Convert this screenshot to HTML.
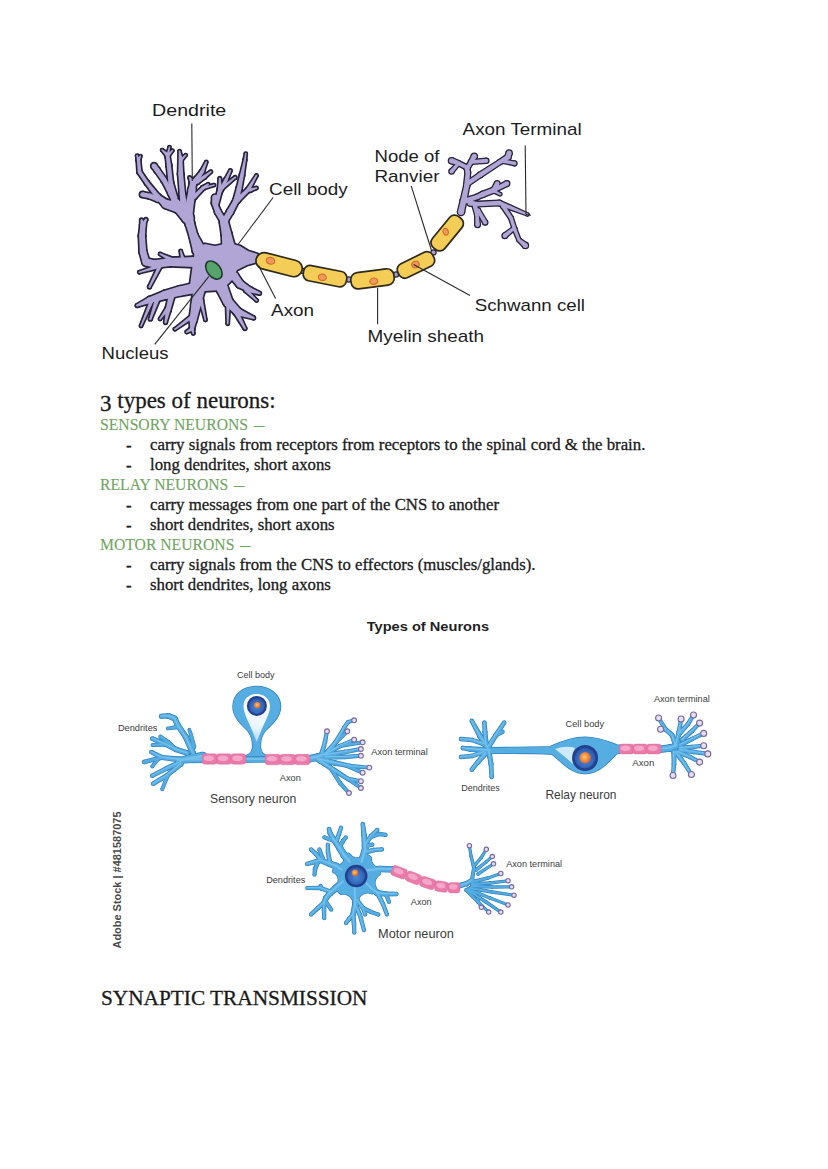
<!DOCTYPE html>
<html>
<head>
<meta charset="utf-8">
<style>
html,body{margin:0;padding:0;background:#fff;}
body{width:828px;height:1169px;position:relative;overflow:hidden;font-family:"Liberation Serif",serif;color:#1a1a1a;}
.t{position:absolute;white-space:nowrap;line-height:20px;-webkit-text-stroke:0.3px currentColor;}
.b{font-size:16.8px;left:150px;}
.d{font-size:16.8px;left:126px;margin-top:1px;}
.g{font-size:15.7px;left:100px;color:#6fa65f;-webkit-text-stroke:0.12px currentColor;}
.dash{display:inline-block;transform:scaleX(0.66);transform-origin:0 0;margin-left:2px;}
.h{font-size:23px;left:100px;}
svg{position:absolute;left:0;top:0;}
</style>
</head>
<body>
<svg width="828" height="1169" viewBox="0 0 828 1169">
<defs><g id="tn"><path d="M195 248 L205 244 L215 246 L224 244 L233 244 L240 246 L248 251 L257.6 254 L258 262 L247 265 L237 270 L232 280 L222 290 L205 291 L195 293 L190 285 L192 270 L194 258Z"/>
<circle cx="199" cy="250" r="6.2"/>
<circle cx="193.5" cy="236" r="4"/>
<circle cx="190" cy="224" r="4.1"/>
<circle cx="188" cy="215" r="4.5"/>
<path d="M204.7 247.7 L197.2 234.6 L189.8 237.4 L193.3 252.3Z"/>
<path d="M197.3 234.9 L193.9 222.8 L186.1 225.2 L189.7 237.1Z"/>
<path d="M194 223.1 L192.4 214 L183.6 216 L186 224.9Z"/>
<circle cx="188" cy="216" r="4.3"/>
<circle cx="190.5" cy="200" r="3.7"/>
<circle cx="192" cy="190" r="3.5"/>
<circle cx="193" cy="183" r="2.9"/>
<circle cx="189.5" cy="177.5" r="0.8"/>
<path d="M192.2 216.7 L194.2 200.6 L186.8 199.4 L183.8 215.3Z"/>
<path d="M194.2 200.6 L195.4 190.5 L188.6 189.5 L186.8 199.4Z"/>
<path d="M195.4 190.5 L195.9 183.4 L190.1 182.6 L188.6 189.5Z"/>
<path d="M195.5 181.4 L190.1 177.1 L188.9 177.9 L190.5 184.6Z"/>
<circle cx="193" cy="184" r="2.9"/>
<circle cx="197" cy="179" r="2.4"/>
<circle cx="202" cy="172" r="1.8"/>
<circle cx="206.3" cy="162" r="0.8"/>
<path d="M195.3 185.8 L198.9 180.5 L195.1 177.5 L190.7 182.2Z"/>
<path d="M198.9 180.4 L203.5 173.1 L200.5 170.9 L195.1 177.6Z"/>
<path d="M203.7 172.7 L207 162.3 L205.6 161.7 L200.3 171.3Z"/>
<circle cx="197" cy="182" r="1.8"/>
<circle cx="204" cy="177" r="1.6"/>
<circle cx="211" cy="171.6" r="0.8"/>
<path d="M198.1 183.5 L204.9 178.3 L203.1 175.7 L195.9 180.5Z"/>
<path d="M205 178.2 L211.5 172.2 L210.5 171 L203 175.8Z"/>
<circle cx="194" cy="197" r="2.1"/>
<circle cx="203" cy="188" r="1.6"/>
<circle cx="208.2" cy="184.2" r="0.8"/>
<path d="M195.5 198.5 L204.1 189.1 L201.9 186.9 L192.5 195.5Z"/>
<path d="M203.9 189.3 L208.7 184.8 L207.7 183.6 L202.1 186.7Z"/>
<circle cx="203" cy="188" r="1.3"/>
<circle cx="214" cy="185.1" r="0.8"/>
<path d="M203.3 189.3 L214.2 185.8 L213.8 184.4 L202.7 186.7Z"/>
<circle cx="188" cy="218" r="5.6"/>
<circle cx="180" cy="208" r="5.6"/>
<circle cx="175" cy="203" r="4.5"/>
<path d="M192.4 214.5 L184.4 204.5 L175.6 211.5 L183.6 221.5Z"/>
<path d="M184 204 L178.2 199.8 L171.8 206.2 L176 212Z"/>
<circle cx="184" cy="207" r="3.5"/>
<circle cx="182.4" cy="194" r="2.7"/>
<circle cx="180.7" cy="174" r="2.4"/>
<circle cx="180.5" cy="158" r="1.8"/>
<circle cx="179.5" cy="151" r="0.7"/>
<path d="M187.4 206.6 L185 193.7 L179.8 194.3 L180.6 207.4Z"/>
<path d="M185 193.8 L183.1 173.8 L178.3 174.2 L179.8 194.2Z"/>
<path d="M183.1 174 L182.3 158 L178.7 158 L178.3 174Z"/>
<path d="M182.3 157.7 L180.2 150.9 L178.8 151.1 L178.7 158.3Z"/>
<circle cx="181" cy="160" r="1.4"/>
<circle cx="185.8" cy="155" r="0.7"/>
<path d="M182 161 L186.3 155.5 L185.3 154.5 L180 159Z"/>
<circle cx="177" cy="205" r="3.2"/>
<circle cx="171" cy="193" r="2.7"/>
<circle cx="164" cy="180" r="2.4"/>
<circle cx="157" cy="170" r="2.4"/>
<circle cx="154" cy="166" r="2.5"/>
<path d="M179.9 203.6 L173.4 191.8 L168.6 194.2 L174.1 206.4Z"/>
<path d="M173.3 191.7 L166.1 178.9 L161.9 181.1 L168.7 194.3Z"/>
<path d="M166 178.6 L159 168.6 L155 171.4 L162 181.4Z"/>
<path d="M158.9 168.6 L156 164.5 L152 167.5 L155.1 171.4Z"/>
<circle cx="175" cy="198" r="2.4"/>
<circle cx="170.6" cy="182.3" r="2.2"/>
<circle cx="168.9" cy="165.4" r="2.1"/>
<circle cx="167.5" cy="155" r="1.8"/>
<circle cx="162" cy="150" r="0.7"/>
<path d="M177.3 197.4 L172.7 181.7 L168.5 182.9 L172.7 198.6Z"/>
<path d="M172.8 182.1 L171 165.2 L166.8 165.6 L168.4 182.5Z"/>
<path d="M170.9 165.1 L169.3 154.8 L165.7 155.2 L166.9 165.7Z"/>
<path d="M168.7 153.6 L162.4 149.5 L161.6 150.5 L166.3 156.4Z"/>
<circle cx="167.5" cy="156" r="1.6"/>
<circle cx="169.5" cy="147" r="0.7"/>
<path d="M169 156.3 L170.1 147.1 L168.9 146.9 L166 155.7Z"/>
<circle cx="167.5" cy="156" r="1.6"/>
<circle cx="172.5" cy="150.5" r="0.7"/>
<path d="M168.7 157.1 L173 150.9 L172 150.1 L166.3 154.9Z"/>
<circle cx="180" cy="208" r="5.1"/>
<circle cx="166" cy="204" r="4"/>
<circle cx="158" cy="197" r="2.4"/>
<circle cx="147" cy="183" r="1.8"/>
<circle cx="139.5" cy="172" r="1.8"/>
<circle cx="138.5" cy="160" r="1.6"/>
<circle cx="137" cy="155.5" r="0.7"/>
<path d="M181.4 203.1 L167.1 200.1 L164.9 207.9 L178.6 212.9Z"/>
<path d="M168.6 201 L159.6 195.2 L156.4 198.8 L163.4 207Z"/>
<path d="M159.9 195.5 L148.5 181.9 L145.5 184.1 L156.1 198.5Z"/>
<path d="M148.5 182 L141 171 L138 173 L145.5 184Z"/>
<path d="M141.3 171.8 L140.1 159.9 L136.9 160.1 L137.7 172.2Z"/>
<path d="M140 159.5 L137.6 155.3 L136.4 155.7 L137 160.5Z"/>
<circle cx="138.5" cy="160" r="1.4"/>
<circle cx="140.5" cy="156" r="0.7"/>
<path d="M139.8 160.6 L141.1 156.3 L139.9 155.7 L137.2 159.4Z"/>
<circle cx="158" cy="199" r="2.7"/>
<circle cx="150" cy="196" r="2.4"/>
<circle cx="142.5" cy="194.5" r="2.3"/>
<path d="M158.9 196.5 L150.8 193.8 L149.2 198.2 L157.1 201.5Z"/>
<path d="M150.5 193.7 L142.9 192.3 L142.1 196.7 L149.5 198.3Z"/>
<circle cx="229" cy="250" r="6.7"/>
<circle cx="226.5" cy="234" r="4.7"/>
<circle cx="224" cy="222" r="4"/>
<path d="M235.6 249 L231.1 233.3 L221.9 234.7 L222.4 251Z"/>
<path d="M231.1 233.1 L227.9 221.2 L220.1 222.8 L221.9 234.9Z"/>
<circle cx="224" cy="222" r="2.9"/>
<circle cx="218" cy="212" r="2.7"/>
<circle cx="214.5" cy="203" r="2.4"/>
<circle cx="215" cy="197.5" r="2.7"/>
<path d="M226.5 220.5 L220.3 210.6 L215.7 213.4 L221.5 223.5Z"/>
<path d="M220.5 211 L216.7 202.1 L212.3 203.9 L215.5 213Z"/>
<path d="M216.9 203.2 L217.6 197.7 L212.4 197.3 L212.1 202.8Z"/>
<circle cx="216" cy="205" r="2.1"/>
<circle cx="220" cy="190" r="2.1"/>
<circle cx="219.8" cy="178.4" r="0.9"/>
<path d="M218 205.5 L222 190.5 L218 189.5 L214 204.5Z"/>
<path d="M222.1 190 L220.7 178.4 L218.9 178.4 L217.9 190Z"/>
<circle cx="220" cy="191" r="1.8"/>
<circle cx="226" cy="180" r="1.6"/>
<circle cx="230.4" cy="170.6" r="0.9"/>
<path d="M221.6 191.9 L227.4 180.8 L224.6 179.2 L218.4 190.1Z"/>
<path d="M227.4 180.7 L231.2 171 L229.6 170.2 L224.6 179.3Z"/>
<circle cx="222" cy="188" r="1.6"/>
<circle cx="235.2" cy="177.4" r="0.9"/>
<path d="M223 189.2 L235.7 178.1 L234.7 176.7 L221 186.8Z"/>
<circle cx="224" cy="222" r="2.9"/>
<circle cx="230" cy="212" r="2.9"/>
<circle cx="236" cy="201" r="2.7"/>
<circle cx="239" cy="189" r="2.4"/>
<circle cx="242" cy="175" r="1.8"/>
<circle cx="244.9" cy="160" r="1"/>
<circle cx="245.8" cy="153.5" r="0.7"/>
<path d="M226.5 223.5 L232.5 213.5 L227.5 210.5 L221.5 220.5Z"/>
<path d="M232.6 213.4 L238.3 202.3 L233.7 199.7 L227.4 210.6Z"/>
<path d="M238.6 201.6 L241.3 189.6 L236.7 188.4 L233.4 200.4Z"/>
<path d="M241.3 189.5 L243.8 175.4 L240.2 174.6 L236.7 188.5Z"/>
<path d="M243.8 175.4 L245.9 160.2 L243.9 159.8 L240.2 174.6Z"/>
<path d="M245.9 160.1 L246.5 153.6 L245.1 153.4 L243.9 159.9Z"/>
<circle cx="237.5" cy="200" r="2.4"/>
<circle cx="248" cy="190" r="1.8"/>
<circle cx="256.5" cy="175.5" r="0.8"/>
<path d="M239.1 201.7 L249.3 191.3 L246.7 188.7 L235.9 198.3Z"/>
<path d="M249.6 190.9 L257.2 175.9 L255.8 175.1 L246.4 189.1Z"/>
<circle cx="250" cy="190" r="1.6"/>
<circle cx="256.5" cy="188" r="0.8"/>
<path d="M250.5 191.5 L256.7 188.7 L256.3 187.3 L249.5 188.5Z"/>
<circle cx="194" cy="262" r="5.1"/>
<circle cx="170" cy="262" r="4"/>
<circle cx="155" cy="264" r="3.7"/>
<circle cx="146" cy="262" r="3.5"/>
<circle cx="143" cy="252" r="3.2"/>
<circle cx="142" cy="236" r="2.9"/>
<circle cx="143" cy="225" r="2.7"/>
<circle cx="141.5" cy="220" r="1"/>
<path d="M194 256.9 L170 258 L170 266 L194 267.1Z"/>
<path d="M169.5 258 L154.5 260.3 L155.5 267.7 L170.5 266Z"/>
<path d="M155.8 260.4 L146.8 258.6 L145.2 265.4 L154.2 267.6Z"/>
<path d="M149.3 261 L146.1 251.1 L139.9 252.9 L142.7 263Z"/>
<path d="M146.2 251.8 L144.9 235.8 L139.1 236.2 L139.8 252.2Z"/>
<path d="M144.9 236.3 L145.6 225.2 L140.4 224.8 L139.1 235.7Z"/>
<path d="M145.5 224.2 L142.5 219.7 L140.5 220.3 L140.5 225.8Z"/>
<circle cx="143" cy="225" r="2.1"/>
<circle cx="146" cy="219.5" r="1"/>
<path d="M144.9 226 L146.9 220 L145.1 219 L141.1 224Z"/>
<circle cx="174" cy="261" r="2.4"/>
<circle cx="160" cy="254" r="0.8"/>
<path d="M175.1 258.9 L160.3 253.3 L159.7 254.7 L172.9 263.1Z"/>
<circle cx="183" cy="260" r="1.8"/>
<circle cx="180.7" cy="251" r="0.8"/>
<path d="M184.8 259.5 L181.4 250.8 L180 251.2 L181.2 260.5Z"/>
<circle cx="160" cy="266" r="1.8"/>
<circle cx="139.3" cy="272.3" r="0.8"/>
<path d="M159.5 264.2 L139.1 271.6 L139.5 273 L160.5 267.8Z"/>
<circle cx="160" cy="266" r="1.8"/>
<circle cx="149.4" cy="287" r="1"/>
<path d="M158.4 265.2 L148.5 286.5 L150.3 287.5 L161.6 266.8Z"/>
<circle cx="195" cy="288" r="5.1"/>
<circle cx="180" cy="291" r="4.5"/>
<circle cx="165" cy="295" r="4"/>
<circle cx="150" cy="300" r="2.9"/>
<circle cx="137" cy="305.6" r="1"/>
<path d="M194 283 L179.1 286.5 L180.9 295.5 L196 293Z"/>
<path d="M178.8 286.6 L164 291.1 L166 298.9 L181.2 295.4Z"/>
<path d="M163.7 291.2 L149.1 297.2 L150.9 302.8 L166.3 298.8Z"/>
<path d="M148.8 297.3 L136.6 304.6 L137.4 306.6 L151.2 302.7Z"/>
<circle cx="158" cy="297" r="2.4"/>
<circle cx="150.3" cy="319.2" r="1"/>
<path d="M155.7 296.2 L149.3 318.9 L151.3 319.5 L160.3 297.8Z"/>
<circle cx="152" cy="300" r="1.8"/>
<circle cx="141" cy="326" r="0.8"/>
<path d="M150.3 299.3 L140.3 325.7 L141.7 326.3 L153.7 300.7Z"/>
<circle cx="172" cy="294" r="2.9"/>
<circle cx="168" cy="310" r="2.4"/>
<circle cx="165.5" cy="322.6" r="1"/>
<path d="M169.2 293.3 L165.7 309.4 L170.3 310.6 L174.8 294.7Z"/>
<path d="M165.7 309.5 L164.5 322.4 L166.5 322.8 L170.3 310.5Z"/>
<circle cx="168" cy="308" r="1.8"/>
<circle cx="160" cy="319" r="0.8"/>
<path d="M166.5 306.9 L159.4 318.6 L160.6 319.4 L169.5 309.1Z"/>
<circle cx="199" cy="290" r="5.6"/>
<circle cx="196" cy="305" r="4.5"/>
<circle cx="193" cy="320" r="3.5"/>
<circle cx="192" cy="329" r="1.8"/>
<circle cx="186.6" cy="332" r="0.8"/>
<path d="M193.5 288.9 L191.5 304.1 L200.5 305.9 L204.5 291.1Z"/>
<path d="M191.5 304.1 L189.6 319.3 L196.4 320.7 L200.5 305.9Z"/>
<path d="M189.6 319.6 L190.2 328.8 L193.8 329.2 L196.4 320.4Z"/>
<path d="M191.1 327.4 L186.2 331.3 L187 332.7 L192.9 330.6Z"/>
<circle cx="192" cy="328" r="1.8"/>
<circle cx="193.4" cy="333.5" r="0.8"/>
<path d="M190.2 328.5 L192.7 333.7 L194.1 333.3 L193.8 327.5Z"/>
<circle cx="193" cy="316" r="1.8"/>
<circle cx="174.8" cy="329.3" r="0.8"/>
<path d="M191.9 314.5 L174.3 328.7 L175.3 329.9 L194.1 317.5Z"/>
<circle cx="201" cy="300" r="1.8"/>
<circle cx="205.5" cy="320" r="0.8"/>
<path d="M199.2 300.4 L204.8 320.2 L206.2 319.8 L202.8 299.6Z"/>
<circle cx="222" cy="288" r="5.6"/>
<circle cx="228" cy="302" r="4.5"/>
<circle cx="238" cy="312" r="3.5"/>
<circle cx="253.8" cy="318" r="1"/>
<path d="M216.8 290.2 L223.8 303.8 L232.2 300.2 L227.2 285.8Z"/>
<path d="M224.8 305.2 L235.5 314.5 L240.5 309.5 L231.2 298.8Z"/>
<path d="M236.8 315.2 L253.4 319 L254.2 317 L239.2 308.8Z"/>
<circle cx="236" cy="312" r="2.4"/>
<circle cx="245" cy="328.6" r="1"/>
<path d="M233.9 313.1 L244.1 329.1 L245.9 328.1 L238.1 310.9Z"/>
<circle cx="228" cy="304" r="1.8"/>
<circle cx="227.7" cy="323.8" r="0.8"/>
<path d="M226.2 304 L226.9 323.8 L228.5 323.8 L229.8 304Z"/>
<circle cx="234" cy="276" r="4"/>
<circle cx="240" cy="284" r="3.5"/>
<circle cx="250" cy="290" r="2.4"/>
<circle cx="259.6" cy="293.3" r="1"/>
<path d="M230.8 278.4 L237.2 286.1 L242.8 281.9 L237.2 273.6Z"/>
<path d="M238.2 287 L248.8 292 L251.2 288 L241.8 281Z"/>
<path d="M249.2 292.3 L259.3 294.3 L259.9 292.3 L250.8 287.7Z"/>
<circle cx="246" cy="290" r="1.8"/>
<circle cx="256.7" cy="300.6" r="0.8"/>
<path d="M244.7 291.3 L256.2 301.1 L257.2 300.1 L247.3 288.7Z"/></g></defs><use href="#tn" fill="#26233a" stroke="#26233a" stroke-width="3.3" stroke-linejoin="round"/><use href="#tn" fill="#b0a5d4"/>
<defs><g id="tt"><circle cx="461" cy="212" r="3"/>
<circle cx="463.5" cy="200.9" r="2.8"/>
<circle cx="466.7" cy="185.7" r="2.5"/>
<circle cx="467.8" cy="172.6" r="2.2"/>
<circle cx="466.7" cy="167.2" r="2.2"/>
<path d="M463.9 212.7 L466.2 201.5 L460.8 200.3 L458.1 211.3Z"/>
<path d="M466.2 201.5 L469.1 186.2 L464.3 185.2 L460.8 200.3Z"/>
<path d="M469.2 185.9 L470 172.8 L465.6 172.4 L464.2 185.5Z"/>
<path d="M470 172.2 L468.9 166.8 L464.5 167.6 L465.6 173Z"/>
<circle cx="466.7" cy="167.2" r="2"/>
<circle cx="458" cy="163" r="2"/>
<circle cx="451.5" cy="160.7" r="2.5"/>
<path d="M467.6 165.4 L458.9 161.2 L457.1 164.8 L465.8 169Z"/>
<path d="M458.7 161.1 L452.3 158.3 L450.7 163.1 L457.3 164.9Z"/>
<circle cx="458" cy="164" r="1.5"/>
<circle cx="451.5" cy="171.5" r="2"/>
<path d="M456.9 163 L450 170.2 L453 172.8 L459.1 165Z"/>
<circle cx="467.5" cy="168" r="2"/>
<circle cx="471" cy="162" r="2"/>
<circle cx="474.3" cy="156.3" r="2.5"/>
<path d="M469.2 169 L472.7 163 L469.3 161 L465.8 167Z"/>
<path d="M472.7 163 L476.5 157.6 L472.1 155 L469.3 161Z"/>
<circle cx="471" cy="162" r="1.8"/>
<circle cx="486.3" cy="160.7" r="2"/>
<path d="M471.1 163.7 L486.5 162.7 L486.1 158.7 L470.9 160.3Z"/>
<circle cx="467" cy="184" r="2.2"/>
<circle cx="480" cy="175" r="2.2"/>
<circle cx="500" cy="162" r="2"/>
<circle cx="508" cy="157" r="2.5"/>
<circle cx="509.1" cy="153" r="2.5"/>
<path d="M468.3 185.8 L481.3 176.8 L478.7 173.2 L465.7 182.2Z"/>
<path d="M481.2 176.9 L501.1 163.7 L498.9 160.3 L478.8 173.1Z"/>
<path d="M501.1 163.7 L509.3 159.1 L506.7 154.9 L498.9 160.3Z"/>
<path d="M510.4 157.7 L511.5 153.7 L506.7 152.3 L505.6 156.3Z"/>
<circle cx="503" cy="161" r="1.8"/>
<circle cx="514.6" cy="163.4" r="1.8"/>
<path d="M502.6 162.7 L514.2 165.1 L515 161.7 L503.4 159.3Z"/>
<circle cx="465" cy="201" r="2.5"/>
<circle cx="477" cy="197" r="2.2"/>
<circle cx="483" cy="194.3" r="2.5"/>
<circle cx="494" cy="190" r="2.5"/>
<circle cx="497.2" cy="183.5" r="2.2"/>
<path d="M465.8 203.4 L477.7 199.1 L476.3 194.9 L464.2 198.6Z"/>
<path d="M477.9 199.1 L484 196.6 L482 192 L476.1 194.9Z"/>
<path d="M483.9 196.6 L494.9 192.3 L493.1 187.7 L482.1 192Z"/>
<path d="M496.2 191.1 L499.2 184.5 L495.2 182.5 L491.8 188.9Z"/>
<circle cx="494" cy="190" r="2"/>
<circle cx="507" cy="183.5" r="2.2"/>
<path d="M494.9 191.8 L508 185.5 L506 181.5 L493.1 188.2Z"/>
<circle cx="494" cy="191" r="1.5"/>
<circle cx="500.4" cy="194.3" r="1"/>
<path d="M493.3 192.3 L499.9 195.2 L500.9 193.4 L494.7 189.7Z"/>
<circle cx="470" cy="203" r="2.5"/>
<circle cx="477.6" cy="204.1" r="2.2"/>
<circle cx="499.3" cy="203" r="2.2"/>
<circle cx="527.6" cy="214.5" r="1"/>
<path d="M469.6 205.5 L477.3 206.3 L477.9 201.9 L470.4 200.5Z"/>
<path d="M477.7 206.3 L499.4 205.2 L499.2 200.8 L477.5 201.9Z"/>
<path d="M498.5 205.1 L527.2 215.4 L528 213.6 L500.1 200.9Z"/>
<circle cx="475" cy="206" r="2.2"/>
<circle cx="477" cy="215" r="1.8"/>
<circle cx="477.6" cy="224.8" r="2.2"/>
<path d="M472.8 206.5 L475.3 215.4 L478.7 214.6 L477.2 205.5Z"/>
<path d="M475.3 215.1 L475.4 224.9 L479.8 224.7 L478.7 214.9Z"/>
<circle cx="478" cy="210" r="1.8"/>
<circle cx="485.2" cy="222.6" r="2"/>
<path d="M476.5 210.9 L483.5 223.6 L486.9 221.6 L479.5 209.1Z"/>
<circle cx="503" cy="206" r="2"/>
<circle cx="511" cy="218" r="1.8"/>
<circle cx="514.6" cy="229.1" r="1.8"/>
<circle cx="519" cy="240" r="1.5"/>
<circle cx="525.4" cy="245.4" r="2.5"/>
<path d="M501.3 207.1 L509.5 219 L512.5 217 L504.7 204.9Z"/>
<path d="M509.3 218.5 L512.9 229.6 L516.3 228.6 L512.7 217.5Z"/>
<path d="M513 229.8 L517.6 240.6 L520.4 239.4 L516.2 228.4Z"/>
<path d="M518 241.1 L523.8 247.3 L527 243.5 L520 238.9Z"/>
<circle cx="513" cy="229" r="1.5"/>
<circle cx="504.8" cy="235.7" r="2.2"/>
<path d="M512.1 227.8 L503.4 234 L506.2 237.4 L513.9 230.2Z"/></g></defs><use href="#tt" fill="#26233a" stroke="#26233a" stroke-width="2.6" stroke-linejoin="round"/><use href="#tt" fill="#b0a5d4"/>
<g fill="#a89fd0" stroke="#2b2a33" stroke-width="1.2">
<circle cx="302.2" cy="270.8" r="2.6"/>
<circle cx="348.8" cy="279.5" r="2.6"/>
<circle cx="396" cy="274.5" r="2.6"/>
<circle cx="433.5" cy="252.5" r="2.6"/>
</g>
<g fill="#f4cd57" stroke="#2e2a1a" stroke-width="1.7">
<rect x="-23.6" y="-8.2" width="47.2" height="16.5" rx="8.2" transform="translate(279.1 264.6) rotate(14.4)"/>
<rect x="-21.9" y="-7.8" width="43.8" height="15.5" rx="6.5" transform="translate(325 276.2) rotate(11.2)"/>
<rect x="-21.7" y="-8.2" width="43.4" height="16.5" rx="7" transform="translate(372.5 278.8) rotate(-7.3)"/>
<rect x="-19.5" y="-7.8" width="38.9" height="15.5" rx="6.5" transform="translate(416 265) rotate(-25.9)"/>
<rect x="-20.1" y="-8" width="40.1" height="16" rx="6.5" transform="translate(447.2 233) rotate(-50.6)"/>
</g>
<g fill="#ec9a5a" stroke="#d4692e" stroke-width="1.1">
<ellipse cx="0" cy="0" rx="4.3" ry="3.3" transform="translate(270.5 260.8) rotate(14)"/>
<ellipse cx="0" cy="0" rx="4" ry="3.2" transform="translate(322.3 277.3) rotate(10)"/>
<ellipse cx="0" cy="0" rx="4" ry="3.2" transform="translate(373.8 281.2) rotate(-7)"/>
<ellipse cx="0" cy="0" rx="3.8" ry="3.2" transform="translate(415.5 264.5) rotate(-25)"/>
<ellipse cx="0" cy="0" rx="2.6" ry="3.4" transform="translate(445.7 231.7) rotate(-20)"/>
</g>
<ellipse cx="0" cy="0" rx="10.3" ry="6.6" transform="translate(213.9 270.1) rotate(52)" fill="#56a46b" stroke="#1d3b2b" stroke-width="1.6"/>
<g stroke="#2a2a2a" stroke-width="1.1" fill="none"><line x1="191.8" y1="123.5" x2="192.3" y2="181"/><line x1="238.4" y1="244" x2="273.1" y2="197.5"/><line x1="411.2" y1="185.8" x2="431.5" y2="250.5"/><line x1="525.2" y1="145.5" x2="526" y2="214.5"/><line x1="526" y1="214.5" x2="531" y2="215.2"/><line x1="413.6" y1="264.5" x2="470" y2="295.4"/><line x1="377.6" y1="288" x2="377.6" y2="324.3"/><line x1="258.5" y1="265.5" x2="275.6" y2="298.6"/><line x1="208.9" y1="276.4" x2="154.7" y2="344.4"/></g>
<g font-family="Liberation Sans, sans-serif" font-size="16.6" fill="#1c1c1c"><text x="152.1" y="116.3" textLength="74.2" lengthAdjust="spacingAndGlyphs">Dendrite</text><text x="269.0" y="195.4" textLength="78.7" lengthAdjust="spacingAndGlyphs">Cell body</text><text x="374.5" y="161.7" textLength="65.0" lengthAdjust="spacingAndGlyphs">Node of</text><text x="374.5" y="182.2" textLength="65.0" lengthAdjust="spacingAndGlyphs">Ranvier</text><text x="462.6" y="134.7" textLength="119.0" lengthAdjust="spacingAndGlyphs">Axon Terminal</text><text x="474.8" y="310.7" textLength="110.2" lengthAdjust="spacingAndGlyphs">Schwann cell</text><text x="367.5" y="342" textLength="116.6" lengthAdjust="spacingAndGlyphs">Myelin sheath</text><text x="271.1" y="315.7" textLength="43.0" lengthAdjust="spacingAndGlyphs">Axon</text><text x="101.6" y="358.9" textLength="66.9" lengthAdjust="spacingAndGlyphs">Nucleus</text></g>
<defs>
<radialGradient id="nucg" cx="0.5" cy="0.55" r="0.55"><stop offset="0" stop-color="#4a8ad4"/><stop offset="0.7" stop-color="#3468bb"/><stop offset="1" stop-color="#2a4fa2"/></radialGradient>
<radialGradient id="orag" cx="0.45" cy="0.45" r="0.55"><stop offset="0" stop-color="#fcc873"/><stop offset="0.55" stop-color="#f2913e"/><stop offset="1" stop-color="#d8673a"/></radialGradient>
<linearGradient id="hole" x1="0" y1="0" x2="0" y2="1"><stop offset="0" stop-color="#ffffff"/><stop offset="0.7" stop-color="#e9f5fc"/><stop offset="1" stop-color="#a9d8f2"/></linearGradient>
</defs>
<defs><g id="sd"><circle cx="310" cy="759" r="2.5"/>
<circle cx="178" cy="760" r="2.5"/>
<path d="M310 756.5 L178 757.5 L178 762.5 L310 761.5Z"/>
<circle cx="203" cy="756.5" r="4"/>
<circle cx="190" cy="758.5" r="3.5"/>
<circle cx="180" cy="760.5" r="2.8"/>
<path d="M202.4 752.5 L189.5 755 L190.5 762 L203.6 760.5Z"/>
<path d="M189.3 755.1 L179.5 757.8 L180.5 763.2 L190.7 761.9Z"/>
<circle cx="193" cy="753" r="2.2"/>
<circle cx="185.7" cy="736.7" r="2.2"/>
<circle cx="177.6" cy="724.9" r="2.2"/>
<circle cx="174.9" cy="718.6" r="2.2"/>
<circle cx="168.5" cy="715.9" r="2.1"/>
<circle cx="161.3" cy="716.3" r="1.8"/>
<path d="M195.1 752.1 L187.8 735.8 L183.6 737.6 L190.9 753.9Z"/>
<path d="M187.6 735.4 L179.5 723.6 L175.7 726.2 L183.8 738Z"/>
<path d="M179.7 724 L177 717.7 L172.8 719.5 L175.5 725.8Z"/>
<path d="M175.8 716.5 L169.3 714 L167.7 717.8 L174 720.7Z"/>
<path d="M168.4 713.8 L161.2 714.6 L161.4 718 L168.6 718Z"/>
<circle cx="178" cy="727" r="1.5"/>
<circle cx="167.6" cy="728.6" r="1"/>
<path d="M177.8 725.5 L167.4 727.6 L167.8 729.6 L178.2 728.5Z"/>
<circle cx="194" cy="747" r="1.5"/>
<circle cx="191" cy="735" r="1.3"/>
<circle cx="189.3" cy="729.5" r="1"/>
<path d="M195.5 746.6 L192.3 734.7 L189.7 735.3 L192.5 747.4Z"/>
<path d="M192.2 734.6 L190.3 729.2 L188.3 729.8 L189.8 735.4Z"/>
<circle cx="187" cy="753" r="2.2"/>
<circle cx="175.8" cy="749.4" r="2"/>
<circle cx="164.9" cy="744" r="1.8"/>
<circle cx="152.2" cy="738.5" r="1.6"/>
<path d="M187.7 750.9 L176.4 747.5 L175.2 751.3 L186.3 755.1Z"/>
<path d="M176.7 747.6 L165.7 742.4 L164.1 745.6 L174.9 751.2Z"/>
<path d="M165.6 742.3 L152.8 737 L151.6 740 L164.2 745.7Z"/>
<circle cx="175.8" cy="749.4" r="1.6"/>
<circle cx="168" cy="742" r="1.5"/>
<circle cx="160.4" cy="736.7" r="1.4"/>
<path d="M176.9 748.2 L169 740.9 L167 743.1 L174.7 750.6Z"/>
<path d="M168.9 740.8 L161.2 735.6 L159.6 737.8 L167.1 743.2Z"/>
<circle cx="165" cy="744.5" r="1.4"/>
<circle cx="152.5" cy="745" r="1.2"/>
<path d="M164.9 743.1 L152.5 743.8 L152.5 746.2 L165.1 745.9Z"/>
<circle cx="180" cy="759.5" r="2.2"/>
<circle cx="162.2" cy="757.5" r="1.8"/>
<circle cx="151.3" cy="752.1" r="1.5"/>
<path d="M180.3 757.3 L162.4 755.7 L162 759.3 L179.7 761.7Z"/>
<path d="M163 755.9 L152 750.8 L150.6 753.4 L161.4 759.1Z"/>
<circle cx="162.2" cy="757.5" r="1.6"/>
<circle cx="144" cy="762" r="1.5"/>
<path d="M161.8 755.9 L143.6 760.5 L144.4 763.5 L162.6 759.1Z"/>
<circle cx="158" cy="759" r="1.3"/>
<circle cx="152.2" cy="766.6" r="1.2"/>
<path d="M157 758.2 L151.2 765.9 L153.2 767.3 L159 759.8Z"/>
<circle cx="181" cy="762" r="2"/>
<circle cx="166.7" cy="768.4" r="1.7"/>
<circle cx="152.2" cy="775.7" r="1.5"/>
<path d="M180.2 760.2 L166 766.8 L167.4 770 L181.8 763.8Z"/>
<path d="M165.9 766.9 L151.5 774.4 L152.9 777 L167.5 769.9Z"/>
<circle cx="181" cy="764" r="2"/>
<circle cx="166.7" cy="775.7" r="1.7"/>
<circle cx="153.1" cy="783.8" r="1.5"/>
<path d="M179.7 762.5 L165.6 774.4 L167.8 777 L182.3 765.5Z"/>
<path d="M165.8 774.2 L152.3 782.5 L153.9 785.1 L167.6 777.2Z"/>
<circle cx="168" cy="775" r="1.3"/>
<circle cx="162.2" cy="789.2" r="1.2"/>
<path d="M166.8 774.5 L161.1 788.7 L163.3 789.7 L169.2 775.5Z"/><path d="M256.5 686.5 C243 686.5 233 695 233 706.5 C233 717 241 724 248 731 C252 736 253 742 252.5 748 C252 752 249 755 245 756 L268 756 C264 755 261 752 260.5 748 C260 742 261 736 265 731 C272 724 280.5 717 280.5 706.5 C280.5 695 270 686.5 256.5 686.5 Z"/></g></defs><use href="#sd" fill="#3283be" stroke="#3283be" stroke-width="1.5" stroke-linejoin="round"/><use href="#sd" fill="#55ade2"/><g fill="#8fd2f4" opacity="0.55"><circle cx="309.7" cy="758.6" r="0.9"/>
<circle cx="177.7" cy="759.6" r="0.9"/>
<path d="M309.7 757.7 L177.7 758.7 L177.7 760.5 L309.7 759.5Z"/>
<circle cx="202.7" cy="756.1" r="1.4"/>
<circle cx="189.7" cy="758.1" r="1.2"/>
<circle cx="179.7" cy="760.1" r="1"/>
<path d="M202.5 754.7 L189.5 756.9 L189.9 759.3 L202.9 757.5Z"/>
<path d="M189.5 756.9 L179.5 759.2 L179.9 761 L189.9 759.3Z"/>
<circle cx="192.7" cy="752.6" r="0.8"/>
<circle cx="185.4" cy="736.3" r="0.8"/>
<circle cx="177.3" cy="724.5" r="0.8"/>
<circle cx="174.6" cy="718.2" r="0.8"/>
<circle cx="168.2" cy="715.5" r="0.7"/>
<circle cx="161" cy="715.9" r="0.6"/>
<path d="M193.4 752.3 L186.1 736 L184.7 736.6 L192 752.9Z"/>
<path d="M186 735.9 L177.9 724.1 L176.7 724.9 L184.8 736.7Z"/>
<path d="M178 724.2 L175.3 717.9 L173.9 718.5 L176.6 724.8Z"/>
<path d="M174.9 717.5 L168.5 714.8 L167.9 716.2 L174.3 718.9Z"/>
<path d="M168.2 714.8 L161 715.3 L161 716.5 L168.2 716.2Z"/>
<circle cx="186.7" cy="752.6" r="0.8"/>
<circle cx="175.5" cy="749" r="0.7"/>
<circle cx="164.6" cy="743.6" r="0.6"/>
<circle cx="151.9" cy="738.1" r="0.6"/>
<path d="M186.9 751.9 L175.7 748.3 L175.3 749.7 L186.5 753.3Z"/>
<path d="M175.8 748.4 L164.9 743 L164.3 744.2 L175.2 749.6Z"/>
<path d="M164.9 743 L152.1 737.6 L151.7 738.6 L164.3 744.2Z"/>
<circle cx="179.7" cy="759.1" r="0.8"/>
<circle cx="161.9" cy="757.1" r="0.6"/>
<circle cx="151" cy="751.7" r="0.5"/>
<path d="M179.8 758.3 L162 756.5 L161.8 757.7 L179.6 759.9Z"/>
<path d="M162.2 756.5 L151.2 751.2 L150.8 752.2 L161.6 757.7Z"/>
<circle cx="180.7" cy="761.6" r="0.7"/>
<circle cx="166.4" cy="768" r="0.6"/>
<circle cx="151.9" cy="775.3" r="0.5"/>
<path d="M180.4 761 L166.2 767.5 L166.6 768.5 L181 762.2Z"/>
<path d="M166.1 767.5 L151.7 774.8 L152.1 775.8 L166.7 768.5Z"/>
<circle cx="180.7" cy="763.6" r="0.7"/>
<circle cx="166.4" cy="775.3" r="0.6"/>
<circle cx="152.8" cy="783.4" r="0.5"/>
<path d="M180.3 763.1 L166 774.8 L166.8 775.8 L181.1 764.1Z"/>
<path d="M166.1 774.8 L152.5 782.9 L153.1 783.9 L166.7 775.8Z"/></g>
<defs><g id="st"><circle cx="308" cy="759" r="3"/>
<circle cx="318" cy="757" r="3"/>
<circle cx="326" cy="754" r="2.5"/>
<path d="M308.6 761.9 L318.6 759.9 L317.4 754.1 L307.4 756.1Z"/>
<path d="M319.1 759.8 L326.9 756.3 L325.1 751.7 L316.9 754.2Z"/>
<circle cx="326" cy="754" r="2.2"/>
<circle cx="336" cy="742" r="1.8"/>
<circle cx="344" cy="728" r="1.5"/>
<circle cx="348" cy="722" r="1.3"/>
<circle cx="354.1" cy="720.3" r="1.1"/>
<path d="M327.7 755.4 L337.3 743.1 L334.7 740.9 L324.3 752.6Z"/>
<path d="M337.5 742.9 L345.3 728.7 L342.7 727.3 L334.5 741.1Z"/>
<path d="M345.2 728.8 L349.1 722.7 L346.9 721.3 L342.8 727.2Z"/>
<path d="M348.3 723.3 L354.4 721.4 L353.8 719.2 L347.7 720.7Z"/>
<circle cx="322" cy="753" r="1.8"/>
<circle cx="325" cy="742" r="1.5"/>
<circle cx="327" cy="731.3" r="1.2"/>
<path d="M323.7 753.5 L326.4 742.4 L323.6 741.6 L320.3 752.5Z"/>
<path d="M326.5 742.3 L328.2 731.5 L325.8 731.1 L323.5 741.7Z"/>
<circle cx="336" cy="742" r="1.5"/>
<circle cx="347.3" cy="731.3" r="1.2"/>
<path d="M337 743.1 L348.1 732.2 L346.5 730.4 L335 740.9Z"/>
<circle cx="326" cy="754" r="2"/>
<circle cx="340" cy="746" r="1.5"/>
<circle cx="354.1" cy="739.7" r="1.2"/>
<path d="M327 755.7 L340.7 747.3 L339.3 744.7 L325 752.3Z"/>
<path d="M340.6 747.4 L354.6 740.8 L353.6 738.6 L339.4 744.6Z"/>
<circle cx="340" cy="746" r="1.3"/>
<circle cx="362.6" cy="742.3" r="1.2"/>
<path d="M340.2 747.3 L362.8 743.5 L362.4 741.1 L339.8 744.7Z"/>
<circle cx="326" cy="755" r="2"/>
<circle cx="345" cy="752" r="1.5"/>
<circle cx="360.9" cy="749" r="1.2"/>
<path d="M326.3 757 L345.2 753.5 L344.8 750.5 L325.7 753Z"/>
<path d="M345.3 753.5 L361.1 750.2 L360.7 747.8 L344.7 750.5Z"/>
<circle cx="326" cy="757" r="2"/>
<circle cx="345" cy="757" r="1.5"/>
<circle cx="360.9" cy="755.8" r="1.2"/>
<path d="M326 759 L345 758.5 L345 755.5 L326 755Z"/>
<path d="M345.1 758.5 L361 757 L360.8 754.6 L344.9 755.5Z"/>
<circle cx="318" cy="759" r="2.5"/>
<circle cx="335" cy="763" r="2"/>
<circle cx="350" cy="766" r="1.5"/>
<circle cx="369.3" cy="767.6" r="1.2"/>
<path d="M317.4 761.4 L334.5 764.9 L335.5 761.1 L318.6 756.6Z"/>
<path d="M334.6 765 L349.7 767.5 L350.3 764.5 L335.4 761Z"/>
<path d="M349.9 767.5 L369.2 768.8 L369.4 766.4 L350.1 764.5Z"/>
<circle cx="345" cy="765" r="1.3"/>
<circle cx="362.6" cy="772.7" r="1.2"/>
<path d="M344.5 766.2 L362.1 773.8 L363.1 771.6 L345.5 763.8Z"/>
<circle cx="320" cy="761" r="2"/>
<circle cx="334" cy="770" r="1.8"/>
<circle cx="348" cy="779" r="1.5"/>
<circle cx="360.9" cy="781.2" r="1.2"/>
<path d="M318.9 762.7 L333.1 771.5 L334.9 768.5 L321.1 759.3Z"/>
<path d="M333.1 771.5 L347.2 780.3 L348.8 777.7 L334.9 768.5Z"/>
<path d="M347.7 780.5 L360.7 782.4 L361.1 780 L348.3 777.5Z"/>
<circle cx="348" cy="779" r="1.3"/>
<circle cx="360.9" cy="788" r="1.2"/>
<path d="M347.3 780.1 L360.2 789 L361.6 787 L348.7 777.9Z"/>
<circle cx="330" cy="767" r="1.5"/>
<circle cx="340" cy="783" r="1.4"/>
<circle cx="349" cy="793" r="1.2"/>
<path d="M328.7 767.8 L338.8 783.7 L341.2 782.3 L331.3 766.2Z"/>
<path d="M339 783.9 L348.1 793.8 L349.9 792.2 L341 782.1Z"/></g></defs><use href="#st" fill="#3283be" stroke="#3283be" stroke-width="1.5" stroke-linejoin="round"/><use href="#st" fill="#55ade2"/><g fill="#8fd2f4" opacity="0.55"><circle cx="307.7" cy="758.6" r="1"/>
<circle cx="317.7" cy="756.6" r="1"/>
<circle cx="325.7" cy="753.6" r="0.9"/>
<path d="M307.9 759.6 L317.9 757.6 L317.5 755.6 L307.5 757.6Z"/>
<path d="M318.1 757.6 L326 754.4 L325.4 752.8 L317.3 755.6Z"/>
<circle cx="325.7" cy="753.6" r="0.8"/>
<circle cx="335.7" cy="741.6" r="0.6"/>
<circle cx="343.7" cy="727.6" r="0.5"/>
<circle cx="347.7" cy="721.6" r="0.5"/>
<circle cx="353.8" cy="719.9" r="0.4"/>
<path d="M326.3 754.1 L336.2 742 L335.2 741.2 L325.1 753.1Z"/>
<path d="M336.2 741.9 L344.2 727.9 L343.2 727.3 L335.2 741.3Z"/>
<path d="M344.1 727.9 L348.1 721.9 L347.3 721.3 L343.3 727.3Z"/>
<path d="M347.8 722 L353.9 720.3 L353.7 719.5 L347.6 721.2Z"/>
<circle cx="321.7" cy="752.6" r="0.6"/>
<circle cx="324.7" cy="741.6" r="0.5"/>
<circle cx="326.7" cy="730.9" r="0.4"/>
<path d="M322.3 752.8 L325.2 741.7 L324.2 741.5 L321.1 752.4Z"/>
<path d="M325.2 741.7 L327.1 731 L326.3 730.8 L324.2 741.5Z"/>
<circle cx="325.7" cy="753.6" r="0.7"/>
<circle cx="339.7" cy="745.6" r="0.5"/>
<circle cx="353.8" cy="739.3" r="0.4"/>
<path d="M326 754.2 L340 746.1 L339.4 745.1 L325.4 753Z"/>
<path d="M339.9 746.1 L354 739.7 L353.6 738.9 L339.5 745.1Z"/>
<circle cx="325.7" cy="754.6" r="0.7"/>
<circle cx="344.7" cy="751.6" r="0.5"/>
<circle cx="360.6" cy="748.6" r="0.4"/>
<path d="M325.8 755.3 L344.8 752.1 L344.6 751.1 L325.6 753.9Z"/>
<path d="M344.8 752.1 L360.7 749 L360.5 748.2 L344.6 751.1Z"/>
<circle cx="325.7" cy="756.6" r="0.7"/>
<circle cx="344.7" cy="756.6" r="0.5"/>
<circle cx="360.6" cy="755.4" r="0.4"/>
<path d="M325.7 757.3 L344.7 757.1 L344.7 756.1 L325.7 755.9Z"/>
<path d="M344.7 757.1 L360.6 755.8 L360.6 755 L344.7 756.1Z"/>
<circle cx="317.7" cy="758.6" r="0.9"/>
<circle cx="334.7" cy="762.6" r="0.7"/>
<circle cx="349.7" cy="765.6" r="0.5"/>
<circle cx="369" cy="767.2" r="0.4"/>
<path d="M317.5 759.5 L334.5 763.3 L334.9 761.9 L317.9 757.7Z"/>
<path d="M334.6 763.3 L349.6 766.1 L349.8 765.1 L334.8 761.9Z"/>
<path d="M349.7 766.1 L369 767.6 L369 766.8 L349.7 765.1Z"/>
<circle cx="319.7" cy="760.6" r="0.7"/>
<circle cx="333.7" cy="769.6" r="0.6"/>
<circle cx="347.7" cy="778.6" r="0.5"/>
<circle cx="360.6" cy="780.8" r="0.4"/>
<path d="M319.3 761.2 L333.4 770.1 L334 769.1 L320.1 760Z"/>
<path d="M333.4 770.1 L347.4 779 L348 778.2 L334 769.1Z"/>
<path d="M347.6 779.1 L360.5 781.2 L360.7 780.4 L347.8 778.1Z"/></g>
<path d="M256.7 694 C249 694 243.5 699 243.5 706 C243.5 714 249 722 254 735 L256.7 742 L259.4 735 C264.5 722 270 714 270 706 C270 699 264.5 694 256.7 694 Z" fill="url(#hole)"/>
<circle cx="256.9" cy="705.9" r="10" fill="#22408f"/><circle cx="256.9" cy="705.9" r="8" fill="url(#nucg)"/><circle cx="257.3" cy="705.1" r="3.2" fill="url(#orag)"/>
<circle cx="354.1" cy="720.3" r="2.4" fill="#e6def2" stroke="#76679f" stroke-width="1.1"/><circle cx="327" cy="731.3" r="2.4" fill="#e6def2" stroke="#76679f" stroke-width="1.1"/><circle cx="347.3" cy="731.3" r="2.4" fill="#e6def2" stroke="#76679f" stroke-width="1.1"/><circle cx="354.1" cy="739.7" r="2.4" fill="#e6def2" stroke="#76679f" stroke-width="1.1"/><circle cx="362.6" cy="742.3" r="2.4" fill="#e6def2" stroke="#76679f" stroke-width="1.1"/><circle cx="360.9" cy="749" r="2.4" fill="#e6def2" stroke="#76679f" stroke-width="1.1"/><circle cx="360.9" cy="755.8" r="2.4" fill="#e6def2" stroke="#76679f" stroke-width="1.1"/><circle cx="369.3" cy="767.6" r="2.4" fill="#e6def2" stroke="#76679f" stroke-width="1.1"/><circle cx="362.6" cy="772.7" r="2.4" fill="#e6def2" stroke="#76679f" stroke-width="1.1"/><circle cx="360.9" cy="781.2" r="2.4" fill="#e6def2" stroke="#76679f" stroke-width="1.1"/><circle cx="360.9" cy="788" r="2.4" fill="#e6def2" stroke="#76679f" stroke-width="1.1"/><circle cx="349" cy="793" r="2.4" fill="#e6def2" stroke="#76679f" stroke-width="1.1"/>
<g transform="translate(209.7 759) rotate(0.0)"><rect x="-7.6" y="-5.2" width="15.1" height="10.5" rx="2.9" fill="#ea7aa9" stroke="#d8689a" stroke-width="0.4"/><ellipse cx="-0.9" cy="-0.8" rx="5.1" ry="2.8" fill="#f7c2da" opacity="0.65"/></g><g transform="translate(224 759) rotate(0.0)"><rect x="-7.6" y="-5.2" width="15.1" height="10.5" rx="2.9" fill="#ea7aa9" stroke="#d8689a" stroke-width="0.4"/><ellipse cx="-0.9" cy="-0.8" rx="5.1" ry="2.8" fill="#f7c2da" opacity="0.65"/></g><g transform="translate(238.3 759) rotate(0.0)"><rect x="-7.6" y="-5.2" width="15.1" height="10.5" rx="2.9" fill="#ea7aa9" stroke="#d8689a" stroke-width="0.4"/><ellipse cx="-0.9" cy="-0.8" rx="5.1" ry="2.8" fill="#f7c2da" opacity="0.65"/></g>
<g transform="translate(272.8 759.5) rotate(0.0)"><rect x="-7.7" y="-5.2" width="15.5" height="10.5" rx="2.9" fill="#ea7aa9" stroke="#d8689a" stroke-width="0.4"/><ellipse cx="-0.9" cy="-0.8" rx="5.3" ry="2.8" fill="#f7c2da" opacity="0.65"/></g><g transform="translate(287.5 759.5) rotate(0.0)"><rect x="-7.7" y="-5.2" width="15.5" height="10.5" rx="2.9" fill="#ea7aa9" stroke="#d8689a" stroke-width="0.4"/><ellipse cx="-0.9" cy="-0.8" rx="5.3" ry="2.8" fill="#f7c2da" opacity="0.65"/></g><g transform="translate(302.2 759.5) rotate(0.0)"><rect x="-7.7" y="-5.2" width="15.5" height="10.5" rx="2.9" fill="#ea7aa9" stroke="#d8689a" stroke-width="0.4"/><ellipse cx="-0.9" cy="-0.8" rx="5.3" ry="2.8" fill="#f7c2da" opacity="0.65"/></g>
<defs><g id="rd"><circle cx="490" cy="750.5" r="2.5"/>
<circle cx="470" cy="749" r="2"/>
<circle cx="462.7" cy="748" r="1.5"/>
<path d="M490.2 748 L470.1 747 L469.9 751 L489.8 753Z"/>
<path d="M470.3 747 L462.9 746.5 L462.5 749.5 L469.7 751Z"/>
<circle cx="488" cy="748" r="2.5"/>
<circle cx="480" cy="736" r="2"/>
<circle cx="471.7" cy="720.8" r="1.5"/>
<path d="M490.1 746.6 L481.7 734.9 L478.3 737.1 L485.9 749.4Z"/>
<path d="M481.8 735 L473 720.1 L470.4 721.5 L478.2 737Z"/>
<circle cx="486" cy="744" r="2"/>
<circle cx="485" cy="732" r="1.8"/>
<circle cx="484.4" cy="722.6" r="1.5"/>
<path d="M488 743.8 L486.7 731.9 L483.3 732.1 L484 744.2Z"/>
<path d="M486.7 731.9 L485.9 722.5 L482.9 722.7 L483.3 732.1Z"/>
<circle cx="489" cy="746" r="2"/>
<circle cx="496" cy="735" r="1.8"/>
<circle cx="504.3" cy="722.6" r="1.5"/>
<path d="M490.7 747.1 L497.5 735.9 L494.5 734.1 L487.3 744.9Z"/>
<path d="M497.5 736 L505.5 723.4 L503.1 721.8 L494.5 734Z"/>
<circle cx="496" cy="735" r="1.5"/>
<circle cx="502.5" cy="731.7" r="1.5"/>
<path d="M496.7 736.3 L503.2 733 L501.8 730.4 L495.3 733.7Z"/>
<circle cx="484" cy="744" r="1.8"/>
<circle cx="472" cy="740" r="1.5"/>
<circle cx="460.9" cy="738.9" r="1.5"/>
<path d="M484.6 742.3 L472.5 738.6 L471.5 741.4 L483.4 745.7Z"/>
<path d="M472.1 738.5 L461 737.4 L460.8 740.4 L471.9 741.5Z"/>
<circle cx="484" cy="752" r="1.8"/>
<circle cx="472" cy="756" r="1.5"/>
<circle cx="460.9" cy="757" r="1.5"/>
<path d="M483.4 750.3 L471.5 754.6 L472.5 757.4 L484.6 753.7Z"/>
<path d="M471.9 754.5 L460.8 755.5 L461 758.5 L472.1 757.5Z"/>
<circle cx="486" cy="753" r="2"/>
<circle cx="478" cy="762" r="1.8"/>
<circle cx="471.7" cy="769.7" r="1.5"/>
<path d="M484.5 751.7 L476.7 760.8 L479.3 763.2 L487.5 754.3Z"/>
<path d="M476.6 760.9 L470.5 768.8 L472.9 770.6 L479.4 763.1Z"/>
<circle cx="489" cy="752" r="2"/>
<circle cx="491" cy="764" r="1.8"/>
<circle cx="491.7" cy="777" r="1.5"/>
<path d="M487 752.3 L489.3 764.3 L492.7 763.7 L491 751.7Z"/>
<path d="M489.3 764.1 L490.2 777.1 L493.2 776.9 L492.7 763.9Z"/><path d="M488 747.8 C510 747.5 535 747.3 550 746.8 C562 741 573 737.2 585 737.2 C598 737.2 608 741.5 617 745 L622 745.5 L622 753 L617 753.5 C608 762 600 773.5 585 773.5 C571 773.5 563 763 552 754.2 C535 753.4 510 753.3 488 753.3 Z"/></g></defs><use href="#rd" fill="#3283be" stroke="#3283be" stroke-width="1.5" stroke-linejoin="round"/><use href="#rd" fill="#55ade2"/><g fill="#8fd2f4" opacity="0.55"><circle cx="489.7" cy="750.1" r="0.9"/>
<circle cx="469.7" cy="748.6" r="0.7"/>
<circle cx="462.4" cy="747.6" r="0.5"/>
<path d="M489.8 749.2 L469.8 747.9 L469.6 749.3 L489.6 751Z"/>
<path d="M469.8 747.9 L462.5 747.1 L462.3 748.1 L469.6 749.3Z"/>
<circle cx="487.7" cy="747.6" r="0.9"/>
<circle cx="479.7" cy="735.6" r="0.7"/>
<circle cx="471.4" cy="720.4" r="0.5"/>
<path d="M488.4 747.1 L480.3 735.2 L479.1 736 L487 748.1Z"/>
<path d="M480.3 735.3 L471.9 720.1 L470.9 720.7 L479.1 735.9Z"/>
<circle cx="485.7" cy="743.6" r="0.7"/>
<circle cx="484.7" cy="731.6" r="0.6"/>
<circle cx="484.1" cy="722.2" r="0.5"/>
<path d="M486.4 743.5 L485.3 731.5 L484.1 731.7 L485 743.7Z"/>
<path d="M485.3 731.6 L484.6 722.2 L483.6 722.2 L484.1 731.6Z"/>
<circle cx="488.7" cy="745.6" r="0.7"/>
<circle cx="495.7" cy="734.6" r="0.6"/>
<circle cx="504" cy="722.2" r="0.5"/>
<path d="M489.3 746 L496.2 734.9 L495.2 734.3 L488.1 745.2Z"/>
<path d="M496.2 734.9 L504.4 722.5 L503.6 721.9 L495.2 734.3Z"/>
<circle cx="483.7" cy="743.6" r="0.6"/>
<circle cx="471.7" cy="739.6" r="0.5"/>
<circle cx="460.6" cy="738.5" r="0.5"/>
<path d="M483.9 743 L471.9 739.1 L471.5 740.1 L483.5 744.2Z"/>
<path d="M471.8 739.1 L460.7 738 L460.5 739 L471.6 740.1Z"/>
<circle cx="483.7" cy="751.6" r="0.6"/>
<circle cx="471.7" cy="755.6" r="0.5"/>
<circle cx="460.6" cy="756.6" r="0.5"/>
<path d="M483.5 751 L471.5 755.1 L471.9 756.1 L483.9 752.2Z"/>
<path d="M471.7 755.1 L460.6 756.1 L460.6 757.1 L471.7 756.1Z"/>
<circle cx="485.7" cy="752.6" r="0.7"/>
<circle cx="477.7" cy="761.6" r="0.6"/>
<circle cx="471.4" cy="769.3" r="0.5"/>
<path d="M485.2 752.1 L477.2 761.2 L478.2 762 L486.2 753.1Z"/>
<path d="M477.2 761.2 L471 769 L471.8 769.6 L478.2 762Z"/>
<circle cx="488.7" cy="751.6" r="0.7"/>
<circle cx="490.7" cy="763.6" r="0.6"/>
<circle cx="491.4" cy="776.6" r="0.5"/>
<path d="M488 751.7 L490.1 763.7 L491.3 763.5 L489.4 751.5Z"/>
<path d="M490.1 763.6 L490.9 776.6 L491.9 776.6 L491.3 763.6Z"/></g>
<defs><g id="rt"><circle cx="658" cy="749.5" r="3"/>
<circle cx="670" cy="748" r="3"/>
<circle cx="676" cy="746" r="2.5"/>
<path d="M658.4 752.5 L670.4 751 L669.6 745 L657.6 746.5Z"/>
<path d="M670.9 750.8 L676.8 748.4 L675.2 743.6 L669.1 745.2Z"/>
<circle cx="676" cy="746" r="2"/>
<circle cx="672" cy="735" r="1.8"/>
<circle cx="664" cy="728" r="1.5"/>
<circle cx="660.6" cy="729.3" r="1.3"/>
<path d="M677.9 745.3 L673.6 734.4 L670.4 735.6 L674.1 746.7Z"/>
<path d="M673.2 733.7 L665 726.9 L663 729.1 L670.8 736.3Z"/>
<path d="M663.5 726.6 L660.1 728.1 L661.1 730.5 L664.5 729.4Z"/>
<circle cx="666" cy="730" r="1.5"/>
<circle cx="658.6" cy="718" r="1.3"/>
<path d="M667.3 729.2 L659.7 717.3 L657.5 718.7 L664.7 730.8Z"/>
<circle cx="676" cy="746" r="2"/>
<circle cx="679" cy="732" r="1.8"/>
<circle cx="681.1" cy="719" r="1.3"/>
<path d="M678 746.4 L680.7 732.4 L677.3 731.6 L674 745.6Z"/>
<path d="M680.7 732.3 L682.4 719.2 L679.8 718.8 L677.3 731.7Z"/>
<circle cx="679" cy="734" r="1.8"/>
<circle cx="688" cy="724" r="1.5"/>
<circle cx="693.5" cy="715" r="1.3"/>
<path d="M680.3 735.2 L689.1 725 L686.9 723 L677.7 732.8Z"/>
<path d="M689.3 724.8 L694.6 715.7 L692.4 714.3 L686.7 723.2Z"/>
<circle cx="682" cy="740" r="1.8"/>
<circle cx="692" cy="731" r="1.5"/>
<circle cx="699.6" cy="723.1" r="1.3"/>
<path d="M683.2 741.3 L693 732.1 L691 729.9 L680.8 738.7Z"/>
<path d="M693.1 732 L700.5 724 L698.7 722.2 L690.9 730Z"/>
<circle cx="680" cy="745" r="1.8"/>
<circle cx="692" cy="739" r="1.5"/>
<circle cx="703.7" cy="733.4" r="1.3"/>
<path d="M680.8 746.6 L692.7 740.3 L691.3 737.7 L679.2 743.4Z"/>
<path d="M692.6 740.4 L704.3 734.6 L703.1 732.2 L691.4 737.6Z"/>
<circle cx="680" cy="748" r="1.8"/>
<circle cx="692" cy="747" r="1.5"/>
<circle cx="703.7" cy="745.7" r="1.3"/>
<path d="M680.1 749.7 L692.1 748.5 L691.9 745.5 L679.9 746.3Z"/>
<path d="M692.2 748.5 L703.8 747 L703.6 744.4 L691.8 745.5Z"/>
<circle cx="680" cy="750" r="1.8"/>
<circle cx="694" cy="752" r="1.5"/>
<circle cx="707.8" cy="753.9" r="1.3"/>
<path d="M679.8 751.7 L693.8 753.5 L694.2 750.5 L680.2 748.3Z"/>
<path d="M693.8 753.5 L707.6 755.2 L708 752.6 L694.2 750.5Z"/>
<circle cx="678" cy="752" r="1.8"/>
<circle cx="690" cy="757" r="1.5"/>
<circle cx="699.6" cy="762.1" r="1.3"/>
<path d="M677.3 753.6 L689.4 758.4 L690.6 755.6 L678.7 750.4Z"/>
<path d="M689.3 758.3 L699 763.2 L700.2 761 L690.7 755.7Z"/>
<circle cx="676" cy="752" r="2"/>
<circle cx="684" cy="763" r="1.6"/>
<circle cx="691.4" cy="774.5" r="1.3"/>
<path d="M674.4 753.2 L682.7 763.9 L685.3 762.1 L677.6 750.8Z"/>
<path d="M682.7 763.9 L690.3 775.2 L692.5 773.8 L685.3 762.1Z"/>
<circle cx="674" cy="752" r="2"/>
<circle cx="674" cy="764" r="1.6"/>
<circle cx="673" cy="775.5" r="1.3"/>
<path d="M672 752 L672.4 764 L675.6 764 L676 752Z"/>
<path d="M672.4 763.9 L671.7 775.4 L674.3 775.6 L675.6 764.1Z"/></g></defs><use href="#rt" fill="#3283be" stroke="#3283be" stroke-width="1.5" stroke-linejoin="round"/><use href="#rt" fill="#55ade2"/><g fill="#8fd2f4" opacity="0.55"><circle cx="657.7" cy="749.1" r="1"/>
<circle cx="669.7" cy="747.6" r="1"/>
<circle cx="675.7" cy="745.6" r="0.9"/>
<path d="M657.8 750.1 L669.8 748.6 L669.6 746.6 L657.6 748.1Z"/>
<path d="M670 748.6 L676 746.4 L675.4 744.8 L669.4 746.6Z"/>
<circle cx="675.7" cy="745.6" r="0.7"/>
<circle cx="671.7" cy="734.6" r="0.6"/>
<circle cx="663.7" cy="727.6" r="0.5"/>
<circle cx="660.3" cy="728.9" r="0.5"/>
<path d="M676.4 745.4 L672.3 734.4 L671.1 734.8 L675 745.8Z"/>
<path d="M672.1 734.1 L664 727.2 L663.4 728 L671.3 735.1Z"/>
<path d="M663.5 727.1 L660.1 728.5 L660.5 729.3 L663.9 728.1Z"/>
<circle cx="675.7" cy="745.6" r="0.7"/>
<circle cx="678.7" cy="731.6" r="0.6"/>
<circle cx="680.8" cy="718.6" r="0.5"/>
<path d="M676.4 745.7 L679.3 731.7 L678.1 731.5 L675 745.5Z"/>
<path d="M679.3 731.7 L681.2 718.7 L680.4 718.5 L678.1 731.5Z"/>
<circle cx="678.7" cy="733.6" r="0.6"/>
<circle cx="687.7" cy="723.6" r="0.5"/>
<circle cx="693.2" cy="714.6" r="0.5"/>
<path d="M679.2 734 L688.1 724 L687.3 723.2 L678.2 733.2Z"/>
<path d="M688.1 723.9 L693.6 714.8 L692.8 714.4 L687.3 723.3Z"/>
<circle cx="681.7" cy="739.6" r="0.6"/>
<circle cx="691.7" cy="730.6" r="0.5"/>
<circle cx="699.3" cy="722.7" r="0.5"/>
<path d="M682.1 740.1 L692.1 731 L691.3 730.2 L681.3 739.1Z"/>
<path d="M692.1 731 L699.6 723 L699 722.4 L691.3 730.2Z"/>
<circle cx="679.7" cy="744.6" r="0.6"/>
<circle cx="691.7" cy="738.6" r="0.5"/>
<circle cx="703.4" cy="733" r="0.5"/>
<path d="M680 745.1 L691.9 739.1 L691.5 738.1 L679.4 744.1Z"/>
<path d="M691.9 739.1 L703.6 733.4 L703.2 732.6 L691.5 738.1Z"/>
<circle cx="679.7" cy="747.6" r="0.6"/>
<circle cx="691.7" cy="746.6" r="0.5"/>
<circle cx="703.4" cy="745.3" r="0.5"/>
<path d="M679.8 748.2 L691.7 747.1 L691.7 746.1 L679.6 747Z"/>
<path d="M691.8 747.1 L703.5 745.8 L703.3 744.8 L691.6 746.1Z"/>
<circle cx="679.7" cy="749.6" r="0.6"/>
<circle cx="693.7" cy="751.6" r="0.5"/>
<circle cx="707.5" cy="753.5" r="0.5"/>
<path d="M679.6 750.2 L693.6 752.1 L693.8 751.1 L679.8 749Z"/>
<path d="M693.6 752.1 L707.4 754 L707.6 753 L693.8 751.1Z"/>
<circle cx="677.7" cy="751.6" r="0.6"/>
<circle cx="689.7" cy="756.6" r="0.5"/>
<circle cx="699.3" cy="761.7" r="0.5"/>
<path d="M677.5 752.2 L689.5 757.1 L689.9 756.1 L677.9 751Z"/>
<path d="M689.5 757.1 L699.1 762.1 L699.5 761.3 L689.9 756.1Z"/>
<circle cx="675.7" cy="751.6" r="0.7"/>
<circle cx="683.7" cy="762.6" r="0.6"/>
<circle cx="691.1" cy="774.1" r="0.5"/>
<path d="M675.1 752 L683.2 762.9 L684.2 762.3 L676.3 751.2Z"/>
<path d="M683.2 762.9 L690.7 774.3 L691.5 773.9 L684.2 762.3Z"/>
<circle cx="673.7" cy="751.6" r="0.7"/>
<circle cx="673.7" cy="763.6" r="0.6"/>
<circle cx="672.7" cy="775.1" r="0.5"/>
<path d="M673 751.6 L673.1 763.6 L674.3 763.6 L674.4 751.6Z"/>
<path d="M673.1 763.6 L672.2 775.1 L673.2 775.1 L674.3 763.6Z"/></g>
<path d="M555 749 Q566 745 575 748 Q571 756 573 764 Q563 755 555 749Z" fill="#e4f4fc" opacity="0.85"/>
<circle cx="585.1" cy="758" r="13" fill="#22408f"/><circle cx="585.1" cy="758" r="10.4" fill="url(#nucg)"/><circle cx="585.1" cy="757.7" r="5.7" fill="url(#orag)"/>
<circle cx="658.6" cy="718" r="3" fill="#e6def2" stroke="#76679f" stroke-width="1.1"/><circle cx="660.6" cy="729.3" r="3" fill="#e6def2" stroke="#76679f" stroke-width="1.1"/><circle cx="681.1" cy="719" r="3" fill="#e6def2" stroke="#76679f" stroke-width="1.1"/><circle cx="693.5" cy="715" r="3" fill="#e6def2" stroke="#76679f" stroke-width="1.1"/><circle cx="699.6" cy="723.1" r="3" fill="#e6def2" stroke="#76679f" stroke-width="1.1"/><circle cx="703.7" cy="733.4" r="3" fill="#e6def2" stroke="#76679f" stroke-width="1.1"/><circle cx="703.7" cy="745.7" r="3" fill="#e6def2" stroke="#76679f" stroke-width="1.1"/><circle cx="707.8" cy="753.9" r="3" fill="#e6def2" stroke="#76679f" stroke-width="1.1"/><circle cx="699.6" cy="762.1" r="3" fill="#e6def2" stroke="#76679f" stroke-width="1.1"/><circle cx="691.4" cy="774.5" r="3" fill="#e6def2" stroke="#76679f" stroke-width="1.1"/><circle cx="673" cy="775.5" r="3" fill="#e6def2" stroke="#76679f" stroke-width="1.1"/>
<g transform="translate(626.4 749) rotate(0.0)"><rect x="-7.2" y="-5" width="14.5" height="10" rx="2.8" fill="#ea7aa9" stroke="#d8689a" stroke-width="0.4"/><ellipse cx="-0.9" cy="-0.8" rx="4.9" ry="2.7" fill="#f7c2da" opacity="0.65"/></g><g transform="translate(640 749) rotate(0.0)"><rect x="-7.2" y="-5" width="14.5" height="10" rx="2.8" fill="#ea7aa9" stroke="#d8689a" stroke-width="0.4"/><ellipse cx="-0.9" cy="-0.8" rx="4.9" ry="2.7" fill="#f7c2da" opacity="0.65"/></g><g transform="translate(653.8 749) rotate(0.0)"><rect x="-7.2" y="-5" width="14.5" height="10" rx="2.8" fill="#ea7aa9" stroke="#d8689a" stroke-width="0.4"/><ellipse cx="-0.9" cy="-0.8" rx="4.9" ry="2.7" fill="#f7c2da" opacity="0.65"/></g>
<defs><g id="md"><circle cx="350" cy="862" r="3.5"/>
<circle cx="344" cy="855" r="3"/>
<circle cx="339.9" cy="848.2" r="2.8"/>
<circle cx="333.8" cy="839.7" r="2.2"/>
<circle cx="330" cy="833" r="1.8"/>
<circle cx="329" cy="828.9" r="1.5"/>
<path d="M352.7 859.7 L346.3 853 L341.7 857 L347.3 864.3Z"/>
<path d="M346.6 853.5 L342.3 846.8 L337.5 849.6 L341.4 856.5Z"/>
<path d="M342.1 846.6 L335.6 838.4 L332 841 L337.7 849.8Z"/>
<path d="M335.8 838.6 L331.5 832.1 L328.5 833.9 L331.8 840.8Z"/>
<path d="M331.7 832.6 L330.5 828.5 L327.5 829.3 L328.3 833.4Z"/>
<circle cx="336" cy="842" r="1.8"/>
<circle cx="339" cy="834" r="1.5"/>
<circle cx="341" cy="827.7" r="1.4"/>
<path d="M337.6 842.6 L340.4 834.5 L337.6 833.5 L334.4 841.4Z"/>
<path d="M340.4 834.5 L342.3 828.1 L339.7 827.3 L337.6 833.5Z"/>
<circle cx="335" cy="841" r="1.6"/>
<circle cx="329" cy="839" r="1.5"/>
<circle cx="324.2" cy="837.3" r="1.3"/>
<path d="M335.5 839.5 L329.5 837.6 L328.5 840.4 L334.5 842.5Z"/>
<path d="M329.5 837.6 L324.6 836.1 L323.8 838.5 L328.5 840.4Z"/>
<circle cx="340" cy="846" r="1.6"/>
<circle cx="343" cy="841" r="1.5"/>
<circle cx="345.9" cy="837.3" r="1.3"/>
<path d="M341.4 846.8 L344.3 841.8 L341.7 840.2 L338.6 845.2Z"/>
<path d="M344.2 841.9 L346.9 838.1 L344.9 836.5 L341.8 840.1Z"/>
<circle cx="362" cy="862" r="3.5"/>
<circle cx="365.2" cy="850" r="2.8"/>
<circle cx="365" cy="845.8" r="2.5"/>
<circle cx="364" cy="835" r="2"/>
<circle cx="362.8" cy="824" r="1.5"/>
<path d="M365.4 862.9 L367.9 850.7 L362.5 849.3 L358.6 861.1Z"/>
<path d="M367.9 849.9 L367.5 845.7 L362.5 845.9 L362.5 850.1Z"/>
<path d="M367.5 845.6 L366 834.8 L362 835.2 L362.5 846Z"/>
<path d="M366 834.8 L364.3 823.8 L361.3 824.2 L362 835.2Z"/>
<circle cx="365" cy="845" r="1.8"/>
<circle cx="371" cy="836" r="1.5"/>
<circle cx="377.3" cy="830" r="1.4"/>
<path d="M366.5 846 L372.2 836.8 L369.8 835.2 L363.5 844Z"/>
<path d="M372 837.1 L378.3 831 L376.3 829 L370 834.9Z"/>
<circle cx="371" cy="837" r="1.5"/>
<circle cx="379" cy="834" r="1.4"/>
<circle cx="385.7" cy="834.9" r="1.3"/>
<path d="M371.5 838.4 L379.5 835.3 L378.5 832.7 L370.5 835.6Z"/>
<path d="M378.8 835.4 L385.5 836.2 L385.9 833.6 L379.2 832.6Z"/>
<circle cx="366" cy="852" r="1.8"/>
<circle cx="374" cy="850" r="1.5"/>
<circle cx="382.1" cy="849.4" r="1.3"/>
<path d="M366.4 853.7 L374.4 851.5 L373.6 848.5 L365.6 850.3Z"/>
<path d="M374.1 851.5 L382.2 850.7 L382 848.1 L373.9 848.5Z"/>
<circle cx="365" cy="846" r="1.5"/>
<circle cx="372.5" cy="844.6" r="1.3"/>
<path d="M365.3 847.5 L372.7 845.9 L372.3 843.3 L364.7 844.5Z"/>
<circle cx="342" cy="870" r="3.2"/>
<circle cx="336" cy="866" r="2.8"/>
<circle cx="330.2" cy="863.9" r="2.5"/>
<circle cx="320.5" cy="860.3" r="2"/>
<circle cx="307.2" cy="863.9" r="1.5"/>
<path d="M343.8 867.3 L337.5 863.7 L334.5 868.3 L340.2 872.7Z"/>
<path d="M336.9 863.4 L331.1 861.5 L329.3 866.3 L335.1 868.6Z"/>
<path d="M331.1 861.6 L321.2 858.4 L319.8 862.2 L329.3 866.2Z"/>
<path d="M320 858.4 L306.8 862.5 L307.6 865.3 L321 862.2Z"/>
<circle cx="321" cy="860" r="1.8"/>
<circle cx="316" cy="854" r="1.5"/>
<circle cx="310.9" cy="849.4" r="1.3"/>
<path d="M322.3 858.9 L317.2 853 L314.8 855 L319.7 861.1Z"/>
<path d="M317 852.9 L311.8 848.4 L310 850.4 L315 855.1Z"/>
<circle cx="323" cy="859" r="1.5"/>
<circle cx="319.3" cy="849.4" r="1.3"/>
<path d="M324.4 858.5 L320.5 848.9 L318.1 849.9 L321.6 859.5Z"/>
<circle cx="330" cy="863" r="1.8"/>
<circle cx="328" cy="852" r="1.5"/>
<circle cx="327.8" cy="844.6" r="1.3"/>
<path d="M331.7 862.7 L329.5 851.7 L326.5 852.3 L328.3 863.3Z"/>
<path d="M329.5 852 L329.1 844.6 L326.5 844.6 L326.5 852Z"/>
<circle cx="318" cy="862" r="1.5"/>
<circle cx="315" cy="869" r="1.5"/>
<circle cx="314.5" cy="874.8" r="1.3"/>
<path d="M316.6 861.4 L313.6 868.4 L316.4 869.6 L319.4 862.6Z"/>
<path d="M313.5 868.9 L313.2 874.7 L315.8 874.9 L316.5 869.1Z"/>
<circle cx="343" cy="882" r="3.2"/>
<circle cx="336" cy="888" r="2.8"/>
<circle cx="330.2" cy="892.9" r="2.5"/>
<circle cx="326" cy="898" r="2.2"/>
<circle cx="324.2" cy="902.5" r="2"/>
<path d="M340.9 879.5 L334.2 885.9 L337.8 890.1 L345.1 884.5Z"/>
<path d="M334.2 885.9 L328.6 891 L331.8 894.8 L337.8 890.1Z"/>
<path d="M328.3 891.3 L324.3 896.6 L327.7 899.4 L332.1 894.5Z"/>
<path d="M323.9 897.2 L322.3 901.8 L326.1 903.2 L328.1 898.8Z"/>
<circle cx="324.2" cy="902.5" r="1.8"/>
<circle cx="318" cy="908" r="1.5"/>
<circle cx="310.9" cy="914.6" r="1.3"/>
<path d="M323 901.2 L317 906.9 L319 909.1 L325.4 903.8Z"/>
<path d="M317 906.9 L310 913.6 L311.8 915.6 L319 909.1Z"/>
<circle cx="324.2" cy="902.5" r="1.8"/>
<circle cx="324" cy="910" r="1.5"/>
<circle cx="324.2" cy="918.2" r="1.3"/>
<path d="M322.5 902.5 L322.5 910 L325.5 910 L325.9 902.5Z"/>
<path d="M322.5 910 L322.9 918.2 L325.5 918.2 L325.5 910Z"/>
<circle cx="326" cy="902" r="1.5"/>
<circle cx="331.4" cy="909.8" r="1.3"/>
<path d="M324.8 902.9 L330.3 910.5 L332.5 909.1 L327.2 901.1Z"/>
<circle cx="331" cy="892" r="1.8"/>
<circle cx="320.5" cy="888" r="1.5"/>
<circle cx="307.2" cy="888" r="1.3"/>
<path d="M331.6 890.4 L321 886.6 L320 889.4 L330.4 893.6Z"/>
<path d="M320.5 886.5 L307.2 886.7 L307.2 889.3 L320.5 889.5Z"/>
<circle cx="322" cy="889" r="1.5"/>
<circle cx="320.5" cy="885.6" r="1.2"/>
<path d="M323.4 888.4 L321.6 885.1 L319.4 886.1 L320.6 889.6Z"/>
<circle cx="355" cy="885" r="3.5"/>
<circle cx="355" cy="895" r="2.8"/>
<circle cx="355.6" cy="902.5" r="2.5"/>
<circle cx="353.1" cy="914.6" r="2"/>
<path d="M351.5 885 L352.2 895 L357.8 895 L358.5 885Z"/>
<path d="M352.3 895.2 L353.1 902.7 L358.1 902.3 L357.7 894.8Z"/>
<path d="M353.2 902 L351.1 914.2 L355.1 915 L358 903Z"/>
<circle cx="353.1" cy="914.6" r="1.8"/>
<circle cx="349" cy="919" r="1.5"/>
<circle cx="345.9" cy="923.1" r="1.3"/>
<path d="M351.8 913.4 L347.9 918 L350.1 920 L354.4 915.8Z"/>
<path d="M347.8 918.1 L344.9 922.3 L346.9 923.9 L350.2 919.9Z"/>
<circle cx="353.1" cy="914.6" r="1.8"/>
<circle cx="354" cy="924" r="1.5"/>
<circle cx="354.3" cy="932.7" r="1.3"/>
<path d="M351.4 914.8 L352.5 924.1 L355.5 923.9 L354.8 914.4Z"/>
<path d="M352.5 924.1 L353 932.7 L355.6 932.7 L355.5 923.9Z"/>
<circle cx="355.6" cy="905" r="1.8"/>
<circle cx="360" cy="915" r="1.5"/>
<circle cx="364" cy="930.3" r="1.3"/>
<path d="M354 905.7 L358.6 915.6 L361.4 914.4 L357.2 904.3Z"/>
<path d="M358.5 915.4 L362.7 930.6 L365.3 930 L361.5 914.6Z"/>
<circle cx="357" cy="900" r="1.8"/>
<circle cx="363" cy="908" r="1.5"/>
<circle cx="365.2" cy="914.6" r="1.3"/>
<path d="M355.6 901 L361.8 908.9 L364.2 907.1 L358.4 899Z"/>
<path d="M361.6 908.5 L364 915 L366.4 914.2 L364.4 907.5Z"/>
<circle cx="363" cy="908" r="1.5"/>
<circle cx="371" cy="912" r="1.4"/>
<circle cx="378.5" cy="914.6" r="1.3"/>
<path d="M362.3 909.3 L370.4 913.3 L371.6 910.7 L363.7 906.7Z"/>
<path d="M370.5 913.3 L378.1 915.8 L378.9 913.4 L371.5 910.7Z"/>
<circle cx="366" cy="883" r="3.2"/>
<circle cx="372" cy="889" r="2.8"/>
<circle cx="377.3" cy="892.9" r="2.5"/>
<circle cx="386" cy="894" r="1.8"/>
<circle cx="396.6" cy="894" r="1.4"/>
<path d="M363.7 885.3 L370.1 890.9 L373.9 887.1 L368.3 880.7Z"/>
<path d="M370.4 891.2 L375.8 894.9 L378.8 890.9 L373.6 886.8Z"/>
<path d="M377 895.4 L385.8 895.7 L386.2 892.3 L377.6 890.4Z"/>
<path d="M386 895.8 L396.6 895.4 L396.6 892.6 L386 892.2Z"/>
<circle cx="377.3" cy="892.9" r="1.8"/>
<circle cx="383" cy="904" r="1.5"/>
<circle cx="387" cy="914.6" r="1.3"/>
<path d="M375.7 893.7 L381.7 904.7 L384.3 903.3 L378.9 892.1Z"/>
<path d="M381.6 904.5 L385.8 915.1 L388.2 914.1 L384.4 903.5Z"/>
<circle cx="386" cy="894" r="1.5"/>
<circle cx="389" cy="902" r="1.3"/>
<path d="M384.6 894.5 L387.8 902.5 L390.2 901.5 L387.4 893.5Z"/>
<circle cx="366" cy="871" r="3.2"/>
<circle cx="380" cy="869" r="2.5"/>
<circle cx="394" cy="869.5" r="2.5"/>
<path d="M366.5 874.2 L380.4 871.5 L379.6 866.5 L365.5 867.8Z"/>
<path d="M379.9 871.5 L393.9 872 L394.1 867 L380.1 866.5Z"/><path d="M378.0 876.0 L377.3 876.7 L376.7 877.4 L376.3 878.1 L375.9 878.8 L375.6 879.4 L375.4 880.1 L375.2 880.7 L375.0 881.4 L374.9 882.1 L374.9 882.8 L374.9 883.6 L375.0 884.4 L375.2 885.3 L375.5 886.2 L376.0 887.4 L376.6 888.7 L376.1 889.4 L375.6 890.1 L375.1 890.8 L374.6 891.4 L374.0 892.1 L373.5 892.7 L372.9 893.3 L372.3 893.8 L370.8 893.4 L369.5 893.0 L368.4 892.8 L367.5 892.8 L366.7 892.8 L366.0 892.9 L365.3 893.1 L364.6 893.2 L364.0 893.5 L363.4 893.7 L362.8 894.1 L362.2 894.4 L361.6 894.9 L361.0 895.3 L360.4 895.9 L359.8 896.7 L359.2 897.6 L358.6 898.9 L357.9 899.9 L357.0 900.0 L356.2 900.0 L355.4 900.0 L354.5 899.9 L353.7 899.9 L352.9 899.8 L352.1 899.4 L351.5 898.3 L350.8 897.5 L350.2 896.8 L349.6 896.2 L349.0 895.8 L348.4 895.4 L347.7 895.0 L347.1 894.7 L346.4 894.5 L345.7 894.2 L344.9 894.1 L344.0 894.0 L343.1 894.0 L342.0 894.1 L340.8 894.4 L340.1 893.8 L339.5 893.3 L338.9 892.7 L338.4 892.1 L337.8 891.4 L337.3 890.8 L336.8 890.1 L336.3 889.4 L335.8 888.7 L335.4 888.0 L335.0 887.3 L335.9 885.9 L337.0 884.6 L337.5 883.5 L337.9 882.7 L338.1 881.9 L338.2 881.2 L338.3 880.5 L338.3 879.8 L338.3 879.2 L338.2 878.5 L338.0 877.9 L337.9 877.3 L337.6 876.6 L337.3 876.0 L336.9 875.3 L336.4 874.6 L335.7 873.8 L334.6 873.0 L332.6 871.8 L332.7 871.0 L332.9 870.2 L333.1 869.4 L333.4 868.6 L333.6 867.8 L333.9 867.0 L334.3 866.2 L334.6 865.5 L336.5 865.5 L337.8 865.4 L338.8 865.2 L339.7 864.8 L340.4 864.5 L341.0 864.1 L341.5 863.7 L342.1 863.3 L342.5 862.8 L342.9 862.3 L343.3 861.7 L343.7 861.1 L344.0 860.4 L344.2 859.5 L344.4 858.6 L344.5 857.3 L344.2 855.2 L344.9 854.8 L345.7 854.4 L346.4 854.1 L347.2 853.7 L348.0 853.4 L348.8 853.2 L350.0 854.3 L351.1 855.6 L352.0 856.4 L352.8 856.9 L353.6 857.3 L354.3 857.5 L354.9 857.7 L355.6 857.9 L356.2 858.0 L356.8 858.0 L357.5 858.0 L358.1 857.9 L358.8 857.8 L359.4 857.6 L360.2 857.4 L360.9 857.0 L361.8 856.5 L362.8 855.7 L364.2 854.0 L365.2 853.7 L366.0 854.1 L366.7 854.4 L367.5 854.8 L368.2 855.2 L368.9 855.6 L369.6 856.1 L370.3 856.6 L371.0 857.1 L371.2 858.1 L371.2 859.3 L371.4 860.3 L371.6 861.2 L371.8 861.9 L372.1 862.7 L372.4 863.3 L372.8 863.9 L373.3 864.5 L373.7 865.0 L374.3 865.6 L374.8 866.1 L375.5 866.6 L376.3 867.0 L377.3 867.5 L378.6 867.9 L379.0 868.6 L379.3 869.4 L379.5 870.2 L379.7 871.0 L379.8 871.8 L380.0 872.7 L380.1 873.5 L380.1 874.3 L379.0 875.2Z"/></g></defs><use href="#md" fill="#3283be" stroke="#3283be" stroke-width="1.5" stroke-linejoin="round"/><use href="#md" fill="#55ade2"/><g fill="#8fd2f4" opacity="0.55"><circle cx="349.7" cy="861.6" r="1.2"/>
<circle cx="343.7" cy="854.6" r="1"/>
<circle cx="339.6" cy="847.8" r="1"/>
<circle cx="333.5" cy="839.3" r="0.8"/>
<circle cx="329.7" cy="832.6" r="0.6"/>
<circle cx="328.7" cy="828.5" r="0.5"/>
<path d="M350.6 860.8 L344.5 853.9 L342.9 855.3 L348.8 862.4Z"/>
<path d="M344.6 854.1 L340.4 847.3 L338.8 848.3 L342.8 855.1Z"/>
<path d="M340.4 847.2 L334.1 838.8 L332.9 839.8 L338.8 848.4Z"/>
<path d="M334.2 838.9 L330.2 832.3 L329.2 832.9 L332.8 839.7Z"/>
<path d="M330.3 832.5 L329.2 828.4 L328.2 828.6 L329.1 832.7Z"/>
<circle cx="335.7" cy="841.6" r="0.6"/>
<circle cx="338.7" cy="833.6" r="0.5"/>
<circle cx="340.7" cy="827.3" r="0.5"/>
<path d="M336.3 841.8 L339.2 833.8 L338.2 833.4 L335.1 841.4Z"/>
<path d="M339.2 833.8 L341.2 827.4 L340.2 827.2 L338.2 833.4Z"/>
<circle cx="361.7" cy="861.6" r="1.2"/>
<circle cx="364.9" cy="849.6" r="1"/>
<circle cx="364.7" cy="845.4" r="0.9"/>
<circle cx="363.7" cy="834.6" r="0.7"/>
<circle cx="362.5" cy="823.6" r="0.5"/>
<path d="M362.9 861.9 L365.8 849.8 L364 849.4 L360.5 861.3Z"/>
<path d="M365.9 849.6 L365.6 845.4 L363.8 845.4 L363.9 849.6Z"/>
<path d="M365.6 845.3 L364.4 834.5 L363 834.7 L363.8 845.5Z"/>
<path d="M364.4 834.5 L363 823.5 L362 823.7 L363 834.7Z"/>
<circle cx="364.7" cy="844.6" r="0.6"/>
<circle cx="370.7" cy="835.6" r="0.5"/>
<circle cx="377" cy="829.6" r="0.5"/>
<path d="M365.2 844.9 L371.1 835.9 L370.3 835.3 L364.2 844.3Z"/>
<path d="M371.1 836 L377.3 830 L376.7 829.2 L370.3 835.2Z"/>
<circle cx="365.7" cy="851.6" r="0.6"/>
<circle cx="373.7" cy="849.6" r="0.5"/>
<circle cx="381.8" cy="849" r="0.5"/>
<path d="M365.8 852.2 L373.8 850.1 L373.6 849.1 L365.6 851Z"/>
<path d="M373.7 850.1 L381.8 849.5 L381.8 848.5 L373.7 849.1Z"/>
<circle cx="341.7" cy="869.6" r="1.1"/>
<circle cx="335.7" cy="865.6" r="1"/>
<circle cx="329.9" cy="863.5" r="0.9"/>
<circle cx="320.2" cy="859.9" r="0.7"/>
<circle cx="306.9" cy="863.5" r="0.5"/>
<path d="M342.3 868.7 L336.2 864.8 L335.2 866.4 L341.1 870.5Z"/>
<path d="M336 864.7 L330.2 862.7 L329.6 864.3 L335.4 866.5Z"/>
<path d="M330.2 862.7 L320.4 859.2 L320 860.6 L329.6 864.3Z"/>
<path d="M320 859.2 L306.8 863 L307 864 L320.4 860.6Z"/>
<circle cx="320.7" cy="859.6" r="0.6"/>
<circle cx="315.7" cy="853.6" r="0.5"/>
<circle cx="310.6" cy="849" r="0.5"/>
<path d="M321.2 859.2 L316.1 853.3 L315.3 853.9 L320.2 860Z"/>
<path d="M316.1 853.2 L310.9 848.7 L310.3 849.3 L315.3 854Z"/>
<circle cx="329.7" cy="862.6" r="0.6"/>
<circle cx="327.7" cy="851.6" r="0.5"/>
<circle cx="327.5" cy="844.2" r="0.5"/>
<path d="M330.3 862.5 L328.2 851.5 L327.2 851.7 L329.1 862.7Z"/>
<path d="M328.2 851.6 L328 844.2 L327 844.2 L327.2 851.6Z"/>
<circle cx="342.7" cy="881.6" r="1.1"/>
<circle cx="335.7" cy="887.6" r="1"/>
<circle cx="329.9" cy="892.5" r="0.9"/>
<circle cx="325.7" cy="897.6" r="0.8"/>
<circle cx="323.9" cy="902.1" r="0.7"/>
<path d="M342 880.7 L335.1 886.9 L336.3 888.3 L343.4 882.5Z"/>
<path d="M335.1 886.9 L329.3 891.8 L330.5 893.2 L336.3 888.3Z"/>
<path d="M329.2 891.9 L325.1 897.1 L326.3 898.1 L330.6 893.1Z"/>
<path d="M325 897.3 L323.3 901.8 L324.5 902.4 L326.4 897.9Z"/>
<circle cx="323.9" cy="902.1" r="0.6"/>
<circle cx="317.7" cy="907.6" r="0.5"/>
<circle cx="310.6" cy="914.2" r="0.5"/>
<path d="M323.5 901.6 L317.4 907.2 L318 908 L324.3 902.6Z"/>
<path d="M317.3 907.2 L310.3 913.9 L310.9 914.5 L318.1 908Z"/>
<circle cx="323.9" cy="902.1" r="0.6"/>
<circle cx="323.7" cy="909.6" r="0.5"/>
<circle cx="323.9" cy="917.8" r="0.5"/>
<path d="M323.3 902.1 L323.2 909.6 L324.2 909.6 L324.5 902.1Z"/>
<path d="M323.2 909.6 L323.4 917.8 L324.4 917.8 L324.2 909.6Z"/>
<circle cx="330.7" cy="891.6" r="0.6"/>
<circle cx="320.2" cy="887.6" r="0.5"/>
<circle cx="306.9" cy="887.6" r="0.5"/>
<path d="M330.9 891 L320.4 887.1 L320 888.1 L330.5 892.2Z"/>
<path d="M320.2 887.1 L306.9 887.1 L306.9 888.1 L320.2 888.1Z"/>
<circle cx="354.7" cy="884.6" r="1.2"/>
<circle cx="354.7" cy="894.6" r="1"/>
<circle cx="355.3" cy="902.1" r="0.9"/>
<circle cx="352.8" cy="914.2" r="0.7"/>
<path d="M353.5 884.6 L353.7 894.6 L355.7 894.6 L355.9 884.6Z"/>
<path d="M353.7 894.7 L354.4 902.2 L356.2 902 L355.7 894.5Z"/>
<path d="M354.4 901.9 L352.1 914.1 L353.5 914.3 L356.2 902.3Z"/>
<circle cx="352.8" cy="914.2" r="0.6"/>
<circle cx="348.7" cy="918.6" r="0.5"/>
<circle cx="345.6" cy="922.7" r="0.5"/>
<path d="M352.4 913.8 L348.3 918.2 L349.1 919 L353.2 914.6Z"/>
<path d="M348.3 918.3 L345.2 922.4 L346 923 L349.1 918.9Z"/>
<circle cx="352.8" cy="914.2" r="0.6"/>
<circle cx="353.7" cy="923.6" r="0.5"/>
<circle cx="354" cy="932.3" r="0.5"/>
<path d="M352.2 914.3 L353.2 923.7 L354.2 923.5 L353.4 914.1Z"/>
<path d="M353.2 923.6 L353.5 932.3 L354.5 932.3 L354.2 923.6Z"/>
<circle cx="355.3" cy="904.6" r="0.6"/>
<circle cx="359.7" cy="914.6" r="0.5"/>
<circle cx="363.7" cy="929.9" r="0.5"/>
<path d="M354.7 904.8 L359.2 914.8 L360.2 914.4 L355.9 904.4Z"/>
<path d="M359.2 914.7 L363.3 930 L364.1 929.8 L360.2 914.5Z"/>
<circle cx="356.7" cy="899.6" r="0.6"/>
<circle cx="362.7" cy="907.6" r="0.5"/>
<circle cx="364.9" cy="914.2" r="0.5"/>
<path d="M356.2 900 L362.3 907.9 L363.1 907.3 L357.2 899.2Z"/>
<path d="M362.2 907.8 L364.5 914.3 L365.3 914.1 L363.2 907.4Z"/>
<circle cx="365.7" cy="882.6" r="1.1"/>
<circle cx="371.7" cy="888.6" r="1"/>
<circle cx="377" cy="892.5" r="0.9"/>
<circle cx="385.7" cy="893.6" r="0.6"/>
<circle cx="396.3" cy="893.6" r="0.5"/>
<path d="M364.9 883.4 L371 889.3 L372.4 887.9 L366.5 881.8Z"/>
<path d="M371.1 889.4 L376.5 893.2 L377.5 891.8 L372.3 887.8Z"/>
<path d="M376.9 893.4 L385.6 894.2 L385.8 893 L377.1 891.6Z"/>
<path d="M385.7 894.2 L396.3 894.1 L396.3 893.1 L385.7 893Z"/>
<circle cx="377" cy="892.5" r="0.6"/>
<circle cx="382.7" cy="903.6" r="0.5"/>
<circle cx="386.7" cy="914.2" r="0.5"/>
<path d="M376.5 892.8 L382.2 903.8 L383.2 903.4 L377.5 892.2Z"/>
<path d="M382.2 903.8 L386.3 914.4 L387.1 914 L383.2 903.4Z"/>
<circle cx="365.7" cy="870.6" r="1.1"/>
<circle cx="379.7" cy="868.6" r="0.9"/>
<circle cx="393.7" cy="869.1" r="0.9"/>
<path d="M365.9 871.7 L379.8 869.5 L379.6 867.7 L365.5 869.5Z"/>
<path d="M379.7 869.5 L393.7 870 L393.7 868.2 L379.7 867.7Z"/></g>
<defs><g id="mt"><circle cx="458" cy="886" r="2.2"/>
<circle cx="466" cy="884" r="1.9"/>
<circle cx="472" cy="880" r="1.7"/>
<path d="M458.5 888.1 L466.5 885.9 L465.5 882.1 L457.5 883.9Z"/>
<path d="M467.1 885.6 L472.9 881.4 L471.1 878.6 L464.9 882.4Z"/>
<circle cx="472" cy="880" r="1.4"/>
<circle cx="474" cy="868" r="1.2"/>
<circle cx="471" cy="856" r="0.9"/>
<circle cx="469.4" cy="845.7" r="0.8"/>
<path d="M473.4 880.2 L475.2 868.2 L472.8 867.8 L470.6 879.8Z"/>
<path d="M475.2 867.7 L471.9 855.8 L470.1 856.2 L472.8 868.3Z"/>
<path d="M471.9 855.9 L470.2 845.6 L468.6 845.8 L470.1 856.1Z"/>
<circle cx="474" cy="866" r="1.1"/>
<circle cx="481" cy="858" r="0.9"/>
<circle cx="486.3" cy="849.3" r="0.8"/>
<path d="M474.8 866.7 L481.7 858.6 L480.3 857.4 L473.2 865.3Z"/>
<path d="M481.8 858.5 L487 849.7 L485.6 848.9 L480.2 857.5Z"/>
<circle cx="476" cy="870" r="1.1"/>
<circle cx="486" cy="862" r="0.9"/>
<circle cx="492.3" cy="856.6" r="0.8"/>
<path d="M476.7 870.9 L486.6 862.7 L485.4 861.3 L475.3 869.1Z"/>
<path d="M486.6 862.7 L492.8 857.2 L491.8 856 L485.4 861.3Z"/>
<circle cx="478" cy="874" r="1.1"/>
<circle cx="493.5" cy="863.8" r="0.8"/>
<path d="M478.6 874.9 L493.9 864.5 L493.1 863.1 L477.4 873.1Z"/>
<circle cx="472" cy="882" r="1.2"/>
<circle cx="488" cy="878" r="1"/>
<circle cx="500.8" cy="873.5" r="0.8"/>
<path d="M472.3 883.2 L488.2 879 L487.8 877 L471.7 880.8Z"/>
<path d="M488.3 878.9 L501.1 874.3 L500.5 872.7 L487.7 877.1Z"/>
<circle cx="472" cy="884" r="1.2"/>
<circle cx="490" cy="883" r="1"/>
<circle cx="508" cy="880.7" r="0.8"/>
<path d="M472.1 885.2 L490.1 884 L489.9 882 L471.9 882.8Z"/>
<path d="M490.1 884 L508.1 881.5 L507.9 879.9 L489.9 882Z"/>
<circle cx="472" cy="886" r="1.2"/>
<circle cx="492" cy="887" r="1"/>
<circle cx="511.6" cy="886.8" r="0.8"/>
<path d="M471.9 887.2 L492 888 L492 886 L472.1 884.8Z"/>
<path d="M492 888 L511.6 887.6 L511.6 886 L492 886Z"/>
<circle cx="470" cy="888" r="1.2"/>
<circle cx="492" cy="892" r="1"/>
<circle cx="514" cy="895.2" r="0.8"/>
<path d="M469.8 889.2 L491.8 893 L492.2 891 L470.2 886.8Z"/>
<path d="M491.9 893 L513.9 896 L514.1 894.4 L492.1 891Z"/>
<circle cx="468" cy="889" r="1.2"/>
<circle cx="490" cy="898" r="1"/>
<circle cx="508" cy="904.9" r="0.8"/>
<path d="M467.5 890.1 L489.6 898.9 L490.4 897.1 L468.5 887.9Z"/>
<path d="M489.6 898.9 L507.7 905.6 L508.3 904.2 L490.4 897.1Z"/>
<circle cx="468" cy="890" r="1.2"/>
<circle cx="486" cy="902" r="1"/>
<circle cx="500.8" cy="912.1" r="0.8"/>
<path d="M467.3 891 L485.4 902.8 L486.6 901.2 L468.7 889Z"/>
<path d="M485.4 902.8 L500.3 912.8 L501.3 911.4 L486.6 901.2Z"/>
<circle cx="466" cy="890" r="1.2"/>
<circle cx="478" cy="902" r="1"/>
<circle cx="488.7" cy="912.1" r="0.8"/>
<path d="M465.2 890.8 L477.3 902.7 L478.7 901.3 L466.8 889.2Z"/>
<path d="M477.3 902.7 L488.2 912.7 L489.2 911.5 L478.7 901.3Z"/>
<circle cx="478" cy="901" r="0.9"/>
<circle cx="481.4" cy="907.3" r="0.8"/>
<path d="M477.2 901.4 L480.7 907.7 L482.1 906.9 L478.8 900.6Z"/></g></defs><use href="#mt" fill="#3283be" stroke="#3283be" stroke-width="1.5" stroke-linejoin="round"/><use href="#mt" fill="#55ade2"/><g fill="#8fd2f4" opacity="0.55"><circle cx="457.7" cy="885.6" r="0.8"/>
<circle cx="465.7" cy="883.6" r="0.7"/>
<circle cx="471.7" cy="879.6" r="0.6"/>
<path d="M457.9 886.3 L465.9 884.3 L465.5 882.9 L457.5 884.9Z"/>
<path d="M466.1 884.2 L472 880.1 L471.4 879.1 L465.3 883Z"/></g>
<circle cx="356.2" cy="876" r="11.3" fill="#22408f"/><circle cx="356.2" cy="876" r="9" fill="url(#nucg)"/><circle cx="355" cy="872.8" r="3.2" fill="url(#orag)"/>
<circle cx="469.4" cy="845.7" r="2.2" fill="#e6def2" stroke="#76679f" stroke-width="1.1"/><circle cx="486.3" cy="849.3" r="2.2" fill="#e6def2" stroke="#76679f" stroke-width="1.1"/><circle cx="492.3" cy="856.6" r="2.2" fill="#e6def2" stroke="#76679f" stroke-width="1.1"/><circle cx="493.5" cy="863.8" r="2.2" fill="#e6def2" stroke="#76679f" stroke-width="1.1"/><circle cx="500.8" cy="873.5" r="2.2" fill="#e6def2" stroke="#76679f" stroke-width="1.1"/><circle cx="508" cy="880.7" r="2.2" fill="#e6def2" stroke="#76679f" stroke-width="1.1"/><circle cx="511.6" cy="886.8" r="2.2" fill="#e6def2" stroke="#76679f" stroke-width="1.1"/><circle cx="514" cy="895.2" r="2.2" fill="#e6def2" stroke="#76679f" stroke-width="1.1"/><circle cx="508" cy="904.9" r="2.2" fill="#e6def2" stroke="#76679f" stroke-width="1.1"/><circle cx="500.8" cy="912.1" r="2.2" fill="#e6def2" stroke="#76679f" stroke-width="1.1"/><circle cx="488.7" cy="912.1" r="2.2" fill="#e6def2" stroke="#76679f" stroke-width="1.1"/><circle cx="481.4" cy="907.3" r="2.2" fill="#e6def2" stroke="#76679f" stroke-width="1.1"/>
<g transform="translate(399.1 872.2) rotate(21.0)"><rect x="-7.7" y="-5.2" width="15.3" height="10.5" rx="2.9" fill="#ea7aa9" stroke="#d8689a" stroke-width="0.4"/><ellipse cx="-0.9" cy="-0.8" rx="5.2" ry="2.8" fill="#f7c2da" opacity="0.65"/></g><g transform="translate(413.4 877.8) rotate(21.2)"><rect x="-7.6" y="-5.2" width="15.2" height="10.5" rx="2.9" fill="#ea7aa9" stroke="#d8689a" stroke-width="0.4"/><ellipse cx="-0.9" cy="-0.8" rx="5.2" ry="2.8" fill="#f7c2da" opacity="0.65"/></g><g transform="translate(427.8 883) rotate(19.0)"><rect x="-7.7" y="-5.2" width="15.3" height="10.5" rx="2.9" fill="#ea7aa9" stroke="#d8689a" stroke-width="0.4"/><ellipse cx="-0.9" cy="-0.8" rx="5.2" ry="2.8" fill="#f7c2da" opacity="0.65"/></g><g transform="translate(441.5 886.5) rotate(9.2)"><rect x="-6.6" y="-5.2" width="13.2" height="10.5" rx="2.9" fill="#ea7aa9" stroke="#d8689a" stroke-width="0.4"/><ellipse cx="-0.8" cy="-0.8" rx="4.5" ry="2.8" fill="#f7c2da" opacity="0.65"/></g><g transform="translate(454 887.6) rotate(0.0)"><rect x="-6" y="-5.2" width="12" height="10.5" rx="2.9" fill="#ea7aa9" stroke="#d8689a" stroke-width="0.4"/><ellipse cx="-0.7" cy="-0.8" rx="4.1" ry="2.8" fill="#f7c2da" opacity="0.65"/></g>
<g font-family="Liberation Sans, sans-serif" fill="#3b3b3b"><text x="236.9" y="677.5" font-size="8.6" textLength="37.7" lengthAdjust="spacingAndGlyphs">Cell body</text><text x="117.9" y="731" font-size="8.6" textLength="39.5" lengthAdjust="spacingAndGlyphs">Dendrites</text><text x="371.3" y="755" font-size="8.6" textLength="56.4" lengthAdjust="spacingAndGlyphs">Axon terminal</text><text x="279.8" y="780.5" font-size="8.6" textLength="21.1" lengthAdjust="spacingAndGlyphs">Axon</text><text x="210.0" y="803" font-size="12.6" textLength="86.3" lengthAdjust="spacingAndGlyphs">Sensory neuron</text><text x="653.9" y="701.6" font-size="8.6" textLength="55.9" lengthAdjust="spacingAndGlyphs">Axon terminal</text><text x="565.6" y="727.2" font-size="8.6" textLength="38.4" lengthAdjust="spacingAndGlyphs">Cell body</text><text x="632.3" y="766.2" font-size="8.6" textLength="22.0" lengthAdjust="spacingAndGlyphs">Axon</text><text x="461.2" y="791.4" font-size="8.6" textLength="38.6" lengthAdjust="spacingAndGlyphs">Dendrites</text><text x="545.4" y="799.3" font-size="12.6" textLength="71.1" lengthAdjust="spacingAndGlyphs">Relay neuron</text><text x="266.2" y="882.6" font-size="8.6" textLength="39.1" lengthAdjust="spacingAndGlyphs">Dendrites</text><text x="506.2" y="867.4" font-size="8.6" textLength="55.9" lengthAdjust="spacingAndGlyphs">Axon terminal</text><text x="410.8" y="904.9" font-size="8.6" textLength="20.8" lengthAdjust="spacingAndGlyphs">Axon</text><text x="378.1" y="938.4" font-size="12.6" textLength="75.8" lengthAdjust="spacingAndGlyphs">Motor neuron</text></g>
<text x="366.7" y="630.8" font-family="Liberation Sans, sans-serif" font-weight="bold" font-size="13.4" fill="#1e1e1e" textLength="122.4" lengthAdjust="spacingAndGlyphs">Types of Neurons</text>
<text transform="translate(120.5 948.5) rotate(-90)" font-family="Liberation Sans, sans-serif" font-weight="bold" font-size="10.4" fill="#4a4a4a" textLength="137" lengthAdjust="spacingAndGlyphs">Adobe Stock | #481587075</text>
</svg>
<div class="t h" style="top:391px"><span style="position:relative;top:3px">3</span> types of neurons:</div>
<div class="t g" style="top:415px">SENSORY NEURONS <span class="dash">—</span></div>
<div class="t d" style="top:435px">-</div>
<div class="t b" style="top:435px">carry signals from receptors from receptors to the spinal cord &amp; the brain.</div>
<div class="t d" style="top:455px">-</div>
<div class="t b" style="top:455px">long dendrites, short axons</div>
<div class="t g" style="top:475px">RELAY NEURONS <span class="dash">—</span></div>
<div class="t d" style="top:495px">-</div>
<div class="t b" style="top:495px">carry messages from one part of the CNS to another</div>
<div class="t d" style="top:515px">-</div>
<div class="t b" style="top:515px">short dendrites, short axons</div>
<div class="t g" style="top:535px">MOTOR NEURONS <span class="dash">—</span></div>
<div class="t d" style="top:555px">-</div>
<div class="t b" style="top:555px">carry signals from the CNS to effectors (muscles/glands).</div>
<div class="t d" style="top:575px">-</div>
<div class="t b" style="top:575px">short dendrites, long axons</div>
<div class="t h" style="top:988px;font-size:21.3px;left:101px">SYNAPTIC TRANSMISSION</div>
</body>
</html>
